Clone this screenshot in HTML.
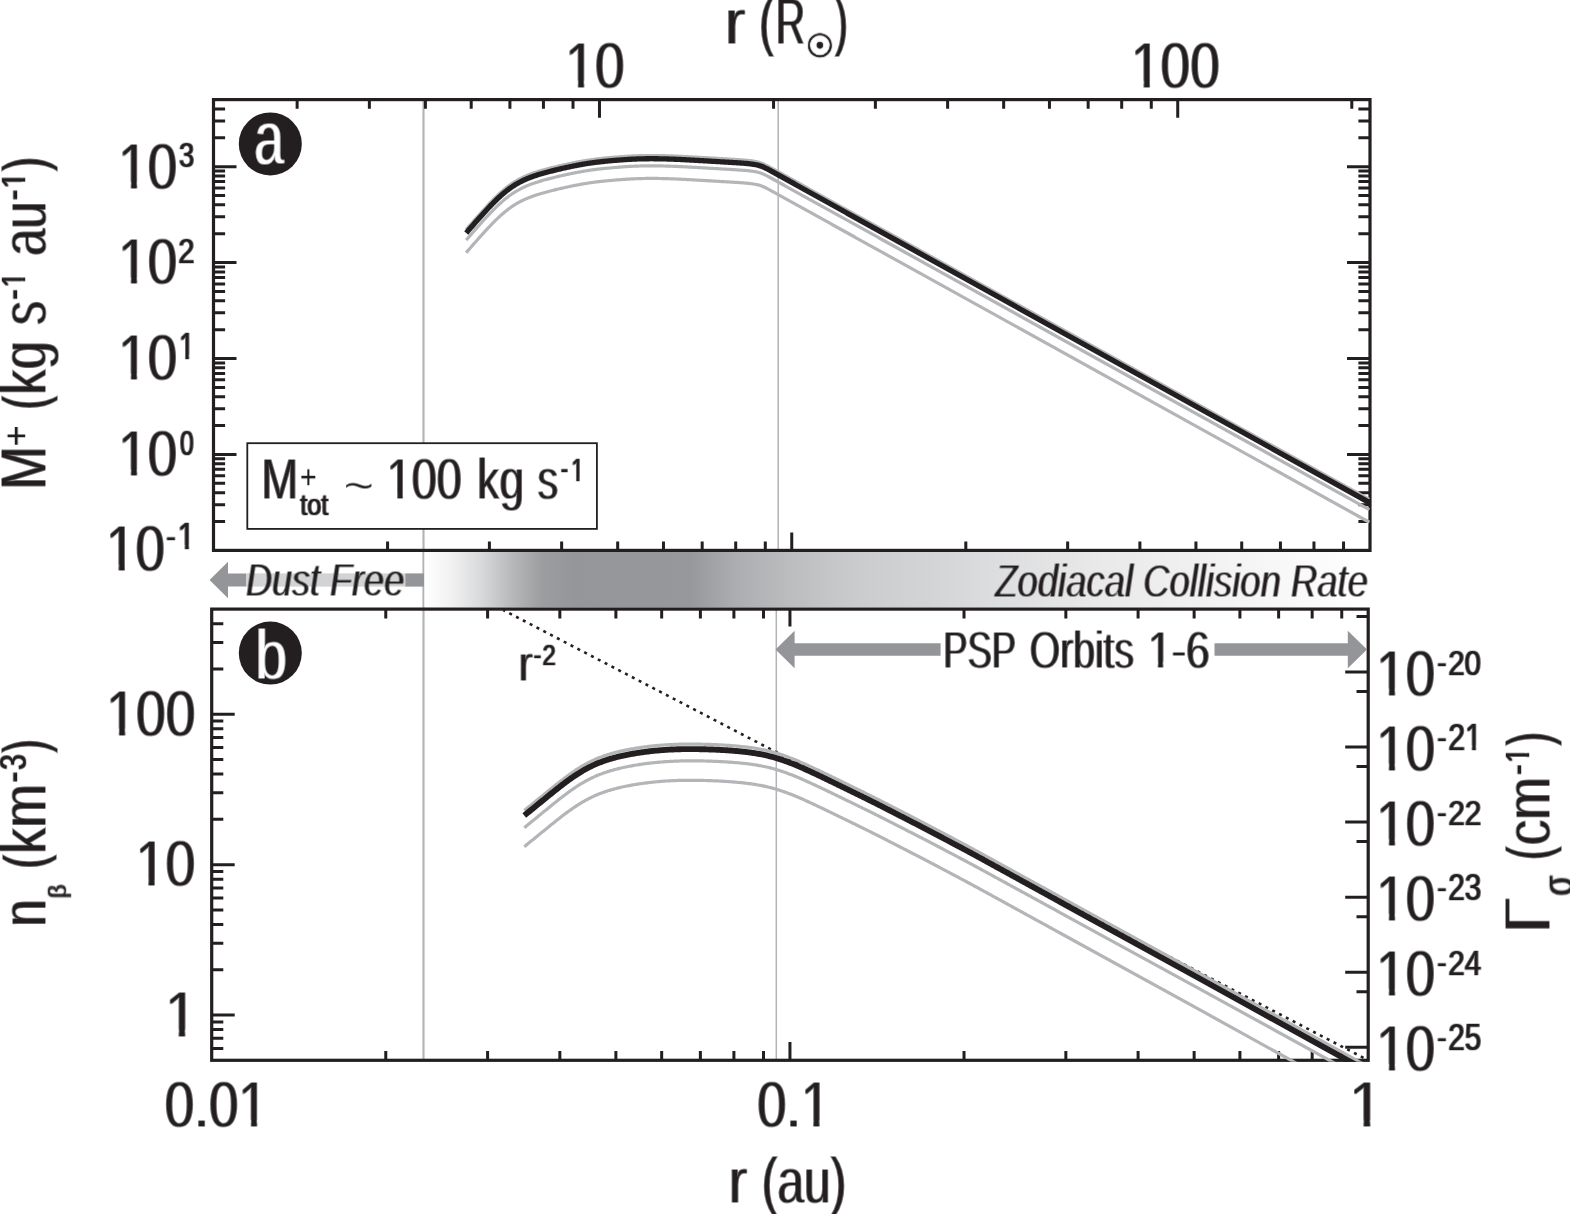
<!DOCTYPE html>
<html lang="en"><head><meta charset="utf-8"><title>Figure</title>
<style>html,body{margin:0;padding:0;background:#fff}svg{display:block}</style></head>
<body>
<svg width="1570" height="1214" viewBox="0 0 1570 1214" font-family='"Liberation Sans", sans-serif' fill="#231f20">
<defs><linearGradient id="zg" x1="0" x2="1" y1="0" y2="0">
<stop offset="0.0000" stop-color="#ffffff"/>
<stop offset="0.0275" stop-color="#f2f2f3"/>
<stop offset="0.0603" stop-color="#d8d9da"/>
<stop offset="0.0930" stop-color="#b6b8ba"/>
<stop offset="0.1247" stop-color="#9b9d9f"/>
<stop offset="0.1596" stop-color="#949699"/>
<stop offset="0.2812" stop-color="#96989b"/>
<stop offset="0.3288" stop-color="#abadb0"/>
<stop offset="0.3869" stop-color="#bcbdbf"/>
<stop offset="0.4292" stop-color="#c5c6c8"/>
<stop offset="0.4609" stop-color="#cbccce"/>
<stop offset="0.5349" stop-color="#d3d4d6"/>
<stop offset="0.6089" stop-color="#dddedf"/>
<stop offset="0.7146" stop-color="#e9e9ea"/>
<stop offset="0.8732" stop-color="#f5f5f6"/>
<stop offset="1.0000" stop-color="#ffffff"/>
</linearGradient>
</defs>
<rect width="1570" height="1214" fill="#fff"/>
<path d="M423.5 99.6V1060.3" stroke="#b1b3b6" stroke-width="2.1" fill="none"/>
<path d="M778.2 99.6V550.4M776.3 609.1V1060.3" stroke="#b1b3b6" stroke-width="1.5" fill="none"/>
<rect x="424.5" y="552.0" width="945.5" height="55.50000000000002" fill="url(#zg)"/>
<path d="M213.5 521.52h11.6M1370 521.52h-11.6M213.5 504.63h11.6M1370 504.63h-11.6M213.5 492.64h11.6M1370 492.64h-11.6M213.5 483.34h11.6M1370 483.34h-11.6M213.5 475.75h11.6M1370 475.75h-11.6M213.5 469.32h11.6M1370 469.32h-11.6M213.5 463.76h11.6M1370 463.76h-11.6M213.5 458.85h11.6M1370 458.85h-11.6M213.5 454.46h23M1370 454.46h-23M213.5 425.58h11.6M1370 425.58h-11.6M213.5 408.69h11.6M1370 408.69h-11.6M213.5 396.7h11.6M1370 396.7h-11.6M213.5 387.41h11.6M1370 387.41h-11.6M213.5 379.81h11.6M1370 379.81h-11.6M213.5 373.39h11.6M1370 373.39h-11.6M213.5 367.83h11.6M1370 367.83h-11.6M213.5 362.92h11.6M1370 362.92h-11.6M213.5 358.53h23M1370 358.53h-23M213.5 329.65h11.6M1370 329.65h-11.6M213.5 312.76h11.6M1370 312.76h-11.6M213.5 300.77h11.6M1370 300.77h-11.6M213.5 291.47h11.6M1370 291.47h-11.6M213.5 283.88h11.6M1370 283.88h-11.6M213.5 277.45h11.6M1370 277.45h-11.6M213.5 271.89h11.6M1370 271.89h-11.6M213.5 266.98h11.6M1370 266.98h-11.6M213.5 262.59h23M1370 262.59h-23M213.5 233.71h11.6M1370 233.71h-11.6M213.5 216.82h11.6M1370 216.82h-11.6M213.5 204.83h11.6M1370 204.83h-11.6M213.5 195.54h11.6M1370 195.54h-11.6M213.5 187.94h11.6M1370 187.94h-11.6M213.5 181.52h11.6M1370 181.52h-11.6M213.5 175.95h11.6M1370 175.95h-11.6M213.5 171.05h11.6M1370 171.05h-11.6M213.5 166.66h23M1370 166.66h-23M213.5 137.78h11.6M1370 137.78h-11.6M213.5 120.88h11.6M1370 120.88h-11.6M213.5 108.9h11.6M1370 108.9h-11.6M387.57 550.4v-9M489.4 550.4v-9M561.64 550.4v-9M617.68 550.4v-9M663.47 550.4v-9M702.18 550.4v-9M735.71 550.4v-9M765.29 550.4v-9M791.75 550.4v-18M965.82 550.4v-9M1067.65 550.4v-9M1139.89 550.4v-9M1195.93 550.4v-9M1241.72 550.4v-9M1280.43 550.4v-9M1313.96 550.4v-9M1343.54 550.4v-9M297.13 99.6v9.1M369.37 99.6v9.1M425.41 99.6v9.1M471.2 99.6v9.1M509.91 99.6v9.1M543.44 99.6v9.1M573.02 99.6v9.1M599.48 99.6v18.2M773.55 99.6v9.1M875.38 99.6v9.1M947.62 99.6v9.1M1003.66 99.6v9.1M1049.45 99.6v9.1M1088.16 99.6v9.1M1121.69 99.6v9.1M1151.27 99.6v9.1M1177.73 99.6v18.2M1351.8 99.6v9.1M211.7 1048.39h11.6M211.7 1038.32h11.6M211.7 1029.6h11.6M211.7 1021.91h11.6M211.7 1015.03h23M211.7 969.75h11.6M211.7 943.27h11.6M211.7 924.48h11.6M211.7 909.9h11.6M211.7 897.99h11.6M211.7 887.92h11.6M211.7 879.2h11.6M211.7 871.51h11.6M211.7 864.63h23M211.7 819.35h11.6M211.7 792.87h11.6M211.7 774.08h11.6M211.7 759.5h11.6M211.7 747.59h11.6M211.7 737.52h11.6M211.7 728.8h11.6M211.7 721.11h11.6M211.7 714.23h23M211.7 668.95h11.6M211.7 642.47h11.6M211.7 623.68h11.6M385.77 1060.3v-9.2M385.77 609.1v9.3M487.6 1060.3v-9.2M487.6 609.1v9.3M559.84 1060.3v-9.2M559.84 609.1v9.3M615.88 1060.3v-9.2M615.88 609.1v9.3M661.67 1060.3v-9.2M661.67 609.1v9.3M700.38 1060.3v-9.2M700.38 609.1v9.3M733.91 1060.3v-9.2M733.91 609.1v9.3M763.49 1060.3v-9.2M763.49 609.1v9.3M789.95 1060.3v-18.3M789.95 609.1v17.5M964.02 1060.3v-9.2M964.02 609.1v9.3M1065.85 1060.3v-9.2M1065.85 609.1v9.3M1138.09 1060.3v-9.2M1138.09 609.1v9.3M1194.13 1060.3v-9.2M1194.13 609.1v9.3M1239.92 1060.3v-9.2M1239.92 609.1v9.3M1278.63 1060.3v-9.2M1278.63 609.1v9.3M1312.16 1060.3v-9.2M1312.16 609.1v9.3M1341.74 1060.3v-9.2M1341.74 609.1v9.3M1368.2 672h-23M1368.2 616.45h-11.7M1368.2 747.05h-23M1368.2 691.5h-11.7M1368.2 822.1h-23M1368.2 766.55h-11.7M1368.2 897.15h-23M1368.2 841.6h-11.7M1368.2 972.2h-23M1368.2 916.65h-11.7M1368.2 1047.25h-23M1368.2 991.7h-11.7" stroke="#231f20" stroke-width="3.0" fill="none"/>
<g stroke="#231f20" stroke-width="3.2" fill="none">
<rect x="213.5" y="99.6" width="1156.5" height="450.8"/>
<rect x="211.7" y="609.1" width="1156.5" height="451.2"/>
</g>
<path d="M503.35 610.1L1368.28 1060.3" stroke="#231f20" stroke-width="2.6" stroke-dasharray="3 4.68" stroke-dashoffset="1" fill="none"/>
<clipPath id="ct"><rect x="213.5" y="99.6" width="1156.5" height="450.79999999999995"/></clipPath>
<g fill="none" clip-path="url(#ct)">
<path d="M466 229.82L466.91 228.76L467.81 227.7L468.72 226.65L469.62 225.6L470.53 224.55L471.43 223.51L472.34 222.47L473.25 221.43L474.15 220.39L475.06 219.36L475.96 218.33L476.87 217.3L477.77 216.28L478.68 215.26L479.58 214.24L480.49 213.23L481.4 212.22L482.3 211.22L483.21 210.21L484.11 209.22L485.02 208.23L485.92 207.24L486.83 206.27L487.74 205.3L488.64 204.34L489.55 203.38L490.45 202.43L491.36 201.49L492.26 200.56L493.17 199.64L494.07 198.72L494.98 197.82L495.89 196.93L496.79 196.06L497.7 195.2L498.6 194.35L499.51 193.51L500.41 192.69L501.32 191.88L502.23 191.08L503.13 190.3L504.04 189.53L504.94 188.78L505.85 188.05L506.75 187.33L507.66 186.63L508.56 185.95L509.47 185.28L510.38 184.63L511.28 184L512.19 183.38L513.09 182.78L514 182.2L514.9 181.63L515.81 181.08L516.72 180.54L517.62 180.02L518.53 179.51L519.43 179.03L520.34 178.55L521.24 178.09L522.15 177.64L523.06 177.21L523.96 176.78L524.87 176.37L525.77 175.97L526.68 175.58L527.58 175.21L528.49 174.84L529.39 174.49L530.3 174.15L531.21 173.81L532.11 173.48L533.02 173.15L533.92 172.84L534.83 172.53L535.73 172.23L536.64 171.94L537.55 171.65L538.45 171.37L539.36 171.09L540.26 170.82L541.17 170.56L542.07 170.29L542.98 170.03L543.88 169.78L544.79 169.53L545.7 169.28L546.6 169.04L547.51 168.8L548.41 168.56L549.32 168.32L550.22 168.09L551.13 167.86L552.04 167.63L552.94 167.41L553.85 167.18L554.75 166.96L555.66 166.74L556.56 166.52L557.47 166.31L558.37 166.09L559.28 165.88L560.19 165.67L561.09 165.46L562 165.25L562.9 165.05L563.81 164.84L564.71 164.64L565.62 164.44L566.53 164.24L567.43 164.04L568.34 163.84L569.24 163.65L570.15 163.46L571.05 163.27L571.96 163.08L572.87 162.89L573.77 162.71L574.68 162.53L575.58 162.35L576.49 162.17L577.39 162L578.3 161.83L579.2 161.66L580.11 161.5L581.02 161.33L581.92 161.17L582.83 161.02L583.73 160.86L584.64 160.71L585.54 160.56L586.45 160.42L587.36 160.27L588.26 160.14L589.17 160L590.07 159.87L590.98 159.74L591.88 159.61L592.79 159.49L593.69 159.37L594.6 159.25L595.51 159.13L596.41 159.02L597.32 158.91L598.22 158.8L599.13 158.7L600.03 158.6L600.94 158.5L601.85 158.4L602.75 158.3L603.66 158.21L604.56 158.12L605.47 158.02L606.37 157.93L607.28 157.85L608.18 157.76L609.09 157.68L610 157.59L610.9 157.51L611.81 157.43L612.71 157.35L613.62 157.27L614.52 157.2L615.43 157.12L616.34 157.05L617.24 156.98L618.15 156.9L619.05 156.83L619.96 156.76L620.86 156.7L621.77 156.63L622.68 156.57L623.58 156.5L624.49 156.44L625.39 156.38L626.3 156.32L627.2 156.27L628.11 156.21L629.01 156.16L629.92 156.11L630.83 156.06L631.73 156.01L632.64 155.97L633.54 155.93L634.45 155.88L635.35 155.85L636.26 155.81L637.17 155.77L638.07 155.74L638.98 155.71L639.88 155.68L640.79 155.66L641.69 155.64L642.6 155.61L643.5 155.6L644.41 155.58L645.32 155.56L646.22 155.55L647.13 155.54L648.03 155.53L648.94 155.53L649.84 155.52L650.75 155.52L651.66 155.52L652.56 155.52L653.47 155.53L654.37 155.53L655.28 155.54L656.18 155.55L657.09 155.56L657.99 155.57L658.9 155.59L659.81 155.6L660.71 155.62L661.62 155.64L662.52 155.66L663.43 155.68L664.33 155.7L665.24 155.73L666.15 155.75L667.05 155.78L667.96 155.81L668.86 155.84L669.77 155.87L670.67 155.9L671.58 155.93L672.49 155.97L673.39 156L674.3 156.04L675.2 156.07L676.11 156.11L677.01 156.15L677.92 156.19L678.82 156.23L679.73 156.27L680.64 156.31L681.54 156.36L682.45 156.4L683.35 156.45L684.26 156.49L685.16 156.54L686.07 156.58L686.98 156.63L687.88 156.68L688.79 156.73L689.69 156.78L690.6 156.83L691.5 156.88L692.41 156.93L693.31 156.98L694.22 157.03L695.13 157.08L696.03 157.13L696.94 157.18L697.84 157.24L698.75 157.29L699.65 157.34L700.56 157.4L701.47 157.45L702.37 157.5L703.28 157.56L704.18 157.61L705.09 157.66L705.99 157.72L706.9 157.77L707.81 157.82L708.71 157.88L709.62 157.93L710.52 157.99L711.43 158.04L712.33 158.09L713.24 158.15L714.14 158.2L715.05 158.25L715.96 158.31L716.86 158.36L717.77 158.42L718.67 158.47L719.58 158.52L720.48 158.58L721.39 158.63L722.3 158.68L723.2 158.74L724.11 158.79L725.01 158.85L725.92 158.9L726.82 158.96L727.73 159.01L728.63 159.06L729.54 159.12L730.45 159.17L731.35 159.23L732.26 159.28L733.16 159.34L734.07 159.39L734.97 159.45L735.88 159.5L736.79 159.56L737.69 159.62L738.6 159.68L739.5 159.74L740.41 159.8L741.31 159.87L742.22 159.93L743.12 160L744.03 160.08L744.94 160.15L745.84 160.23L746.75 160.31L747.65 160.4L748.56 160.5L749.46 160.6L750.37 160.7L751.28 160.82L752.18 160.94L753.09 161.07L753.99 161.22L754.9 161.38L755.8 161.55L756.71 161.74L757.62 161.95L758.52 162.17L759.43 162.43L760.33 162.71L761.24 163.03L762.14 163.38L763.05 163.76L763.95 164.17L764.86 164.61L765.77 165.07L766.67 165.53L767.58 166L768.48 166.48L769.39 166.96L770.29 167.45L771.2 167.95L772.11 168.45L773.01 168.95L773.92 169.45L774.82 169.95L775.73 170.46L776.63 170.96L777.54 171.46L778.44 171.96L779.35 172.46L780.26 172.97L781.16 173.47L782.07 173.97L782.97 174.47L783.88 174.97L784.78 175.48L785.69 175.98L786.6 176.48L787.5 176.98L788.41 177.48L789.31 177.98L790.22 178.49L791.12 178.99L792.03 179.49L792.93 179.99L793.84 180.49L794.75 181L795.65 181.5L796.56 182L797.46 182.5L798.37 183L799.27 183.51L800.18 184.01L801.09 184.51L801.99 185.01L802.9 185.51L803.8 186.02L804.71 186.52L805.61 187.02L806.52 187.52L807.43 188.02L808.33 188.53L809.24 189.03L810.14 189.53L811.05 190.03L811.95 190.53L812.86 191.03L813.76 191.54L814.67 192.04L815.58 192.54L816.48 193.04L817.39 193.54L818.29 194.05L819.2 194.55L820.1 195.05L821.01 195.55L821.92 196.05L822.82 196.56L823.73 197.06L824.63 197.56L825.54 198.06L826.44 198.56L827.35 199.07L828.25 199.57L829.16 200.07L830.07 200.57L830.97 201.07L831.88 201.58L832.78 202.08L833.69 202.58L834.59 203.08L835.5 203.58L836.41 204.08L837.31 204.59L838.22 205.09L839.12 205.59L840.03 206.09L840.93 206.59L841.84 207.1L842.74 207.6L843.65 208.1L844.56 208.6L845.46 209.1L846.37 209.61L847.27 210.11L848.18 210.61L849.08 211.11L849.99 211.61L850.9 212.12L851.8 212.62L852.71 213.12L853.61 213.62L854.52 214.12L855.42 214.63L856.33 215.13L857.24 215.63L858.14 216.13L859.05 216.63L859.95 217.13L860.86 217.64L861.76 218.14L862.67 218.64L863.57 219.14L864.48 219.64L865.39 220.15L866.29 220.65L867.2 221.15L868.1 221.65L869.01 222.15L869.91 222.66L870.82 223.16L871.73 223.66L872.63 224.16L873.54 224.66L874.44 225.17L875.35 225.67L876.25 226.17L877.16 226.67L878.06 227.17L878.97 227.68L879.88 228.18L880.78 228.68L881.69 229.18L882.59 229.68L883.5 230.19L884.4 230.69L885.31 231.19L886.22 231.69L887.12 232.19L888.03 232.69L888.93 233.2L889.84 233.7L890.74 234.2L891.65 234.7L892.55 235.2L893.46 235.71L894.37 236.21L895.27 236.71L896.18 237.21L897.08 237.71L897.99 238.22L898.89 238.72L899.8 239.22L1369.2 499.37" stroke="#b3b5b8" stroke-width="3.2"/>
<path d="M466.2 240.12L467.11 239.06L468.01 238L468.92 236.95L469.82 235.9L470.73 234.85L471.63 233.81L472.54 232.77L473.45 231.73L474.35 230.69L475.26 229.66L476.16 228.63L477.07 227.6L477.97 226.58L478.88 225.56L479.78 224.54L480.69 223.53L481.6 222.52L482.5 221.52L483.41 220.51L484.31 219.52L485.22 218.53L486.12 217.54L487.03 216.57L487.94 215.6L488.84 214.64L489.75 213.68L490.65 212.73L491.56 211.79L492.46 210.86L493.37 209.94L494.27 209.02L495.18 208.12L496.09 207.23L496.99 206.36L497.9 205.5L498.8 204.65L499.71 203.81L500.61 202.99L501.52 202.18L502.43 201.38L503.33 200.6L504.24 199.83L505.14 199.08L506.05 198.35L506.95 197.63L507.86 196.93L508.76 196.25L509.67 195.58L510.58 194.93L511.48 194.3L512.39 193.68L513.29 193.08L514.2 192.5L515.1 191.93L516.01 191.38L516.92 190.84L517.82 190.32L518.73 189.81L519.63 189.33L520.54 188.85L521.44 188.39L522.35 187.94L523.26 187.51L524.16 187.08L525.07 186.67L525.97 186.27L526.88 185.88L527.78 185.51L528.69 185.14L529.59 184.79L530.5 184.45L531.41 184.11L532.31 183.78L533.22 183.45L534.12 183.14L535.03 182.83L535.93 182.53L536.84 182.24L537.75 181.95L538.65 181.67L539.56 181.39L540.46 181.12L541.37 180.86L542.27 180.59L543.18 180.33L544.08 180.08L544.99 179.83L545.9 179.58L546.8 179.34L547.71 179.1L548.61 178.86L549.52 178.62L550.42 178.39L551.33 178.16L552.24 177.93L553.14 177.71L554.05 177.48L554.95 177.26L555.86 177.04L556.76 176.82L557.67 176.61L558.57 176.39L559.48 176.18L560.39 175.97L561.29 175.76L562.2 175.55L563.1 175.35L564.01 175.14L564.91 174.94L565.82 174.74L566.73 174.54L567.63 174.34L568.54 174.14L569.44 173.95L570.35 173.76L571.25 173.57L572.16 173.38L573.07 173.19L573.97 173.01L574.88 172.83L575.78 172.65L576.69 172.47L577.59 172.3L578.5 172.13L579.4 171.96L580.31 171.8L581.22 171.63L582.12 171.47L583.03 171.32L583.93 171.16L584.84 171.01L585.74 170.86L586.65 170.72L587.56 170.57L588.46 170.44L589.37 170.3L590.27 170.17L591.18 170.04L592.08 169.91L592.99 169.79L593.89 169.67L594.8 169.55L595.71 169.43L596.61 169.32L597.52 169.21L598.42 169.1L599.33 169L600.23 168.9L601.14 168.8L602.05 168.7L602.95 168.6L603.86 168.51L604.76 168.42L605.67 168.32L606.57 168.23L607.48 168.15L608.38 168.06L609.29 167.98L610.2 167.89L611.1 167.81L612.01 167.73L612.91 167.65L613.82 167.57L614.72 167.5L615.63 167.42L616.54 167.35L617.44 167.28L618.35 167.2L619.25 167.13L620.16 167.06L621.06 167L621.97 166.93L622.88 166.87L623.78 166.8L624.69 166.74L625.59 166.68L626.5 166.62L627.4 166.57L628.31 166.51L629.21 166.46L630.12 166.41L631.03 166.36L631.93 166.31L632.84 166.27L633.74 166.23L634.65 166.18L635.55 166.15L636.46 166.11L637.37 166.07L638.27 166.04L639.18 166.01L640.08 165.98L640.99 165.96L641.89 165.94L642.8 165.91L643.7 165.9L644.61 165.88L645.52 165.86L646.42 165.85L647.33 165.84L648.23 165.83L649.14 165.83L650.04 165.82L650.95 165.82L651.86 165.82L652.76 165.82L653.67 165.83L654.57 165.83L655.48 165.84L656.38 165.85L657.29 165.86L658.19 165.87L659.1 165.89L660.01 165.9L660.91 165.92L661.82 165.94L662.72 165.96L663.63 165.98L664.53 166L665.44 166.03L666.35 166.05L667.25 166.08L668.16 166.11L669.06 166.14L669.97 166.17L670.87 166.2L671.78 166.23L672.69 166.27L673.59 166.3L674.5 166.34L675.4 166.37L676.31 166.41L677.21 166.45L678.12 166.49L679.02 166.53L679.93 166.57L680.84 166.61L681.74 166.66L682.65 166.7L683.55 166.75L684.46 166.79L685.36 166.84L686.27 166.88L687.18 166.93L688.08 166.98L688.99 167.03L689.89 167.08L690.8 167.13L691.7 167.18L692.61 167.23L693.51 167.28L694.42 167.33L695.33 167.38L696.23 167.43L697.14 167.48L698.04 167.54L698.95 167.59L699.85 167.64L700.76 167.7L701.67 167.75L702.57 167.8L703.48 167.86L704.38 167.91L705.29 167.96L706.19 168.02L707.1 168.07L708.01 168.12L708.91 168.18L709.82 168.23L710.72 168.29L711.63 168.34L712.53 168.39L713.44 168.45L714.34 168.5L715.25 168.55L716.16 168.61L717.06 168.66L717.97 168.72L718.87 168.77L719.78 168.82L720.68 168.88L721.59 168.93L722.5 168.98L723.4 169.04L724.31 169.09L725.21 169.15L726.12 169.2L727.02 169.26L727.93 169.31L728.83 169.36L729.74 169.42L730.65 169.47L731.55 169.53L732.46 169.58L733.36 169.64L734.27 169.69L735.17 169.75L736.08 169.8L736.99 169.86L737.89 169.92L738.8 169.98L739.7 170.04L740.61 170.1L741.51 170.17L742.42 170.23L743.32 170.3L744.23 170.38L745.14 170.45L746.04 170.53L746.95 170.61L747.85 170.7L748.76 170.8L749.66 170.9L750.57 171L751.48 171.12L752.38 171.24L753.29 171.37L754.19 171.52L755.1 171.68L756 171.85L756.91 172.04L757.82 172.25L758.72 172.47L759.63 172.73L760.53 173.01L761.44 173.33L762.34 173.68L763.25 174.06L764.15 174.47L765.06 174.91L765.97 175.37L766.87 175.83L767.78 176.3L768.68 176.78L769.59 177.26L770.49 177.75L771.4 178.25L772.31 178.75L773.21 179.25L774.12 179.75L775.02 180.25L775.93 180.76L776.83 181.26L777.74 181.76L778.64 182.26L779.55 182.76L780.46 183.27L781.36 183.77L782.27 184.27L783.17 184.77L784.08 185.27L784.98 185.78L785.89 186.28L786.8 186.78L787.7 187.28L788.61 187.78L789.51 188.28L790.42 188.79L791.32 189.29L792.23 189.79L793.13 190.29L794.04 190.79L794.95 191.3L795.85 191.8L796.76 192.3L797.66 192.8L798.57 193.3L799.47 193.81L800.38 194.31L801.29 194.81L802.19 195.31L803.1 195.81L804 196.32L804.91 196.82L805.81 197.32L806.72 197.82L807.63 198.32L808.53 198.83L809.44 199.33L810.34 199.83L811.25 200.33L812.15 200.83L813.06 201.33L813.96 201.84L814.87 202.34L815.78 202.84L816.68 203.34L817.59 203.84L818.49 204.35L819.4 204.85L820.3 205.35L821.21 205.85L822.12 206.35L823.02 206.86L823.93 207.36L824.83 207.86L825.74 208.36L826.64 208.86L827.55 209.37L828.45 209.87L829.36 210.37L830.27 210.87L831.17 211.37L832.08 211.88L832.98 212.38L833.89 212.88L834.79 213.38L835.7 213.88L836.61 214.38L837.51 214.89L838.42 215.39L839.32 215.89L840.23 216.39L841.13 216.89L842.04 217.4L842.94 217.9L843.85 218.4L844.76 218.9L845.66 219.4L846.57 219.91L847.47 220.41L848.38 220.91L849.28 221.41L850.19 221.91L851.1 222.42L852 222.92L852.91 223.42L853.81 223.92L854.72 224.42L855.62 224.93L856.53 225.43L857.44 225.93L858.34 226.43L859.25 226.93L860.15 227.43L861.06 227.94L861.96 228.44L862.87 228.94L863.77 229.44L864.68 229.94L865.59 230.45L866.49 230.95L867.4 231.45L868.3 231.95L869.21 232.45L870.11 232.96L871.02 233.46L871.93 233.96L872.83 234.46L873.74 234.96L874.64 235.47L875.55 235.97L876.45 236.47L877.36 236.97L878.26 237.47L879.17 237.98L880.08 238.48L880.98 238.98L881.89 239.48L882.79 239.98L883.7 240.49L884.6 240.99L885.51 241.49L886.42 241.99L887.32 242.49L888.23 242.99L889.13 243.5L890.04 244L890.94 244.5L891.85 245L892.75 245.5L893.66 246.01L894.57 246.51L895.47 247.01L896.38 247.51L897.28 248.01L898.19 248.52L899.09 249.02L900 249.52L1369.4 509.67" stroke="#b3b5b8" stroke-width="3.2"/>
<path d="M466.2 252.72L467.11 251.66L468.01 250.6L468.92 249.55L469.82 248.5L470.73 247.45L471.63 246.41L472.54 245.37L473.45 244.33L474.35 243.29L475.26 242.26L476.16 241.23L477.07 240.2L477.97 239.18L478.88 238.16L479.78 237.14L480.69 236.13L481.6 235.12L482.5 234.12L483.41 233.11L484.31 232.12L485.22 231.13L486.12 230.14L487.03 229.17L487.94 228.2L488.84 227.24L489.75 226.28L490.65 225.33L491.56 224.39L492.46 223.46L493.37 222.54L494.27 221.62L495.18 220.72L496.09 219.83L496.99 218.96L497.9 218.1L498.8 217.25L499.71 216.41L500.61 215.59L501.52 214.78L502.43 213.98L503.33 213.2L504.24 212.43L505.14 211.68L506.05 210.95L506.95 210.23L507.86 209.53L508.76 208.85L509.67 208.18L510.58 207.53L511.48 206.9L512.39 206.28L513.29 205.68L514.2 205.1L515.1 204.53L516.01 203.98L516.92 203.44L517.82 202.92L518.73 202.41L519.63 201.93L520.54 201.45L521.44 200.99L522.35 200.54L523.26 200.11L524.16 199.68L525.07 199.27L525.97 198.87L526.88 198.48L527.78 198.11L528.69 197.74L529.59 197.39L530.5 197.05L531.41 196.71L532.31 196.38L533.22 196.05L534.12 195.74L535.03 195.43L535.93 195.13L536.84 194.84L537.75 194.55L538.65 194.27L539.56 193.99L540.46 193.72L541.37 193.46L542.27 193.19L543.18 192.93L544.08 192.68L544.99 192.43L545.9 192.18L546.8 191.94L547.71 191.7L548.61 191.46L549.52 191.22L550.42 190.99L551.33 190.76L552.24 190.53L553.14 190.31L554.05 190.08L554.95 189.86L555.86 189.64L556.76 189.42L557.67 189.21L558.57 188.99L559.48 188.78L560.39 188.57L561.29 188.36L562.2 188.15L563.1 187.95L564.01 187.74L564.91 187.54L565.82 187.34L566.73 187.14L567.63 186.94L568.54 186.74L569.44 186.55L570.35 186.36L571.25 186.17L572.16 185.98L573.07 185.79L573.97 185.61L574.88 185.43L575.78 185.25L576.69 185.07L577.59 184.9L578.5 184.73L579.4 184.56L580.31 184.4L581.22 184.23L582.12 184.07L583.03 183.92L583.93 183.76L584.84 183.61L585.74 183.46L586.65 183.32L587.56 183.17L588.46 183.04L589.37 182.9L590.27 182.77L591.18 182.64L592.08 182.51L592.99 182.39L593.89 182.27L594.8 182.15L595.71 182.03L596.61 181.92L597.52 181.81L598.42 181.7L599.33 181.6L600.23 181.5L601.14 181.4L602.05 181.3L602.95 181.2L603.86 181.11L604.76 181.02L605.67 180.92L606.57 180.83L607.48 180.75L608.38 180.66L609.29 180.58L610.2 180.49L611.1 180.41L612.01 180.33L612.91 180.25L613.82 180.17L614.72 180.1L615.63 180.02L616.54 179.95L617.44 179.88L618.35 179.8L619.25 179.73L620.16 179.66L621.06 179.6L621.97 179.53L622.88 179.47L623.78 179.4L624.69 179.34L625.59 179.28L626.5 179.22L627.4 179.17L628.31 179.11L629.21 179.06L630.12 179.01L631.03 178.96L631.93 178.91L632.84 178.87L633.74 178.83L634.65 178.78L635.55 178.75L636.46 178.71L637.37 178.67L638.27 178.64L639.18 178.61L640.08 178.58L640.99 178.56L641.89 178.54L642.8 178.51L643.7 178.5L644.61 178.48L645.52 178.46L646.42 178.45L647.33 178.44L648.23 178.43L649.14 178.43L650.04 178.42L650.95 178.42L651.86 178.42L652.76 178.42L653.67 178.43L654.57 178.43L655.48 178.44L656.38 178.45L657.29 178.46L658.19 178.47L659.1 178.49L660.01 178.5L660.91 178.52L661.82 178.54L662.72 178.56L663.63 178.58L664.53 178.6L665.44 178.63L666.35 178.65L667.25 178.68L668.16 178.71L669.06 178.74L669.97 178.77L670.87 178.8L671.78 178.83L672.69 178.87L673.59 178.9L674.5 178.94L675.4 178.97L676.31 179.01L677.21 179.05L678.12 179.09L679.02 179.13L679.93 179.17L680.84 179.21L681.74 179.26L682.65 179.3L683.55 179.35L684.46 179.39L685.36 179.44L686.27 179.48L687.18 179.53L688.08 179.58L688.99 179.63L689.89 179.68L690.8 179.73L691.7 179.78L692.61 179.83L693.51 179.88L694.42 179.93L695.33 179.98L696.23 180.03L697.14 180.08L698.04 180.14L698.95 180.19L699.85 180.24L700.76 180.3L701.67 180.35L702.57 180.4L703.48 180.46L704.38 180.51L705.29 180.56L706.19 180.62L707.1 180.67L708.01 180.72L708.91 180.78L709.82 180.83L710.72 180.89L711.63 180.94L712.53 180.99L713.44 181.05L714.34 181.1L715.25 181.15L716.16 181.21L717.06 181.26L717.97 181.32L718.87 181.37L719.78 181.42L720.68 181.48L721.59 181.53L722.5 181.58L723.4 181.64L724.31 181.69L725.21 181.75L726.12 181.8L727.02 181.86L727.93 181.91L728.83 181.96L729.74 182.02L730.65 182.07L731.55 182.13L732.46 182.18L733.36 182.24L734.27 182.29L735.17 182.35L736.08 182.4L736.99 182.46L737.89 182.52L738.8 182.58L739.7 182.64L740.61 182.7L741.51 182.77L742.42 182.83L743.32 182.9L744.23 182.98L745.14 183.05L746.04 183.13L746.95 183.21L747.85 183.3L748.76 183.4L749.66 183.5L750.57 183.6L751.48 183.72L752.38 183.84L753.29 183.97L754.19 184.12L755.1 184.28L756 184.45L756.91 184.64L757.82 184.85L758.72 185.07L759.63 185.33L760.53 185.61L761.44 185.93L762.34 186.28L763.25 186.66L764.15 187.07L765.06 187.51L765.97 187.97L766.87 188.43L767.78 188.9L768.68 189.38L769.59 189.86L770.49 190.35L771.4 190.85L772.31 191.35L773.21 191.85L774.12 192.35L775.02 192.85L775.93 193.36L776.83 193.86L777.74 194.36L778.64 194.86L779.55 195.36L780.46 195.87L781.36 196.37L782.27 196.87L783.17 197.37L784.08 197.87L784.98 198.38L785.89 198.88L786.8 199.38L787.7 199.88L788.61 200.38L789.51 200.88L790.42 201.39L791.32 201.89L792.23 202.39L793.13 202.89L794.04 203.39L794.95 203.9L795.85 204.4L796.76 204.9L797.66 205.4L798.57 205.9L799.47 206.41L800.38 206.91L801.29 207.41L802.19 207.91L803.1 208.41L804 208.92L804.91 209.42L805.81 209.92L806.72 210.42L807.63 210.92L808.53 211.43L809.44 211.93L810.34 212.43L811.25 212.93L812.15 213.43L813.06 213.93L813.96 214.44L814.87 214.94L815.78 215.44L816.68 215.94L817.59 216.44L818.49 216.95L819.4 217.45L820.3 217.95L821.21 218.45L822.12 218.95L823.02 219.46L823.93 219.96L824.83 220.46L825.74 220.96L826.64 221.46L827.55 221.97L828.45 222.47L829.36 222.97L830.27 223.47L831.17 223.97L832.08 224.48L832.98 224.98L833.89 225.48L834.79 225.98L835.7 226.48L836.61 226.98L837.51 227.49L838.42 227.99L839.32 228.49L840.23 228.99L841.13 229.49L842.04 230L842.94 230.5L843.85 231L844.76 231.5L845.66 232L846.57 232.51L847.47 233.01L848.38 233.51L849.28 234.01L850.19 234.51L851.1 235.02L852 235.52L852.91 236.02L853.81 236.52L854.72 237.02L855.62 237.53L856.53 238.03L857.44 238.53L858.34 239.03L859.25 239.53L860.15 240.03L861.06 240.54L861.96 241.04L862.87 241.54L863.77 242.04L864.68 242.54L865.59 243.05L866.49 243.55L867.4 244.05L868.3 244.55L869.21 245.05L870.11 245.56L871.02 246.06L871.93 246.56L872.83 247.06L873.74 247.56L874.64 248.07L875.55 248.57L876.45 249.07L877.36 249.57L878.26 250.07L879.17 250.58L880.08 251.08L880.98 251.58L881.89 252.08L882.79 252.58L883.7 253.09L884.6 253.59L885.51 254.09L886.42 254.59L887.32 255.09L888.23 255.59L889.13 256.1L890.04 256.6L890.94 257.1L891.85 257.6L892.75 258.1L893.66 258.61L894.57 259.11L895.47 259.61L896.38 260.11L897.28 260.61L898.19 261.12L899.09 261.62L900 262.12L1369.4 522.27" stroke="#b3b5b8" stroke-width="3.2"/>
<path d="M466.2 233.02L467.11 231.96L468.01 230.9L468.92 229.85L469.82 228.8L470.73 227.75L471.63 226.71L472.54 225.67L473.45 224.63L474.35 223.59L475.26 222.56L476.16 221.53L477.07 220.5L477.97 219.48L478.88 218.46L479.78 217.44L480.69 216.43L481.6 215.42L482.5 214.42L483.41 213.41L484.31 212.42L485.22 211.43L486.12 210.44L487.03 209.47L487.94 208.5L488.84 207.54L489.75 206.58L490.65 205.63L491.56 204.69L492.46 203.76L493.37 202.84L494.27 201.92L495.18 201.02L496.09 200.13L496.99 199.26L497.9 198.4L498.8 197.55L499.71 196.71L500.61 195.89L501.52 195.08L502.43 194.28L503.33 193.5L504.24 192.73L505.14 191.98L506.05 191.25L506.95 190.53L507.86 189.83L508.76 189.15L509.67 188.48L510.58 187.83L511.48 187.2L512.39 186.58L513.29 185.98L514.2 185.4L515.1 184.83L516.01 184.28L516.92 183.74L517.82 183.22L518.73 182.71L519.63 182.23L520.54 181.75L521.44 181.29L522.35 180.84L523.26 180.41L524.16 179.98L525.07 179.57L525.97 179.17L526.88 178.78L527.78 178.41L528.69 178.04L529.59 177.69L530.5 177.35L531.41 177.01L532.31 176.68L533.22 176.35L534.12 176.04L535.03 175.73L535.93 175.43L536.84 175.14L537.75 174.85L538.65 174.57L539.56 174.29L540.46 174.02L541.37 173.76L542.27 173.49L543.18 173.23L544.08 172.98L544.99 172.73L545.9 172.48L546.8 172.24L547.71 172L548.61 171.76L549.52 171.52L550.42 171.29L551.33 171.06L552.24 170.83L553.14 170.61L554.05 170.38L554.95 170.16L555.86 169.94L556.76 169.72L557.67 169.51L558.57 169.29L559.48 169.08L560.39 168.87L561.29 168.66L562.2 168.45L563.1 168.25L564.01 168.04L564.91 167.84L565.82 167.64L566.73 167.44L567.63 167.24L568.54 167.04L569.44 166.85L570.35 166.66L571.25 166.47L572.16 166.28L573.07 166.09L573.97 165.91L574.88 165.73L575.78 165.55L576.69 165.37L577.59 165.2L578.5 165.03L579.4 164.86L580.31 164.7L581.22 164.53L582.12 164.37L583.03 164.22L583.93 164.06L584.84 163.91L585.74 163.76L586.65 163.62L587.56 163.47L588.46 163.34L589.37 163.2L590.27 163.07L591.18 162.94L592.08 162.81L592.99 162.69L593.89 162.57L594.8 162.45L595.71 162.33L596.61 162.22L597.52 162.11L598.42 162L599.33 161.9L600.23 161.8L601.14 161.7L602.05 161.6L602.95 161.5L603.86 161.41L604.76 161.32L605.67 161.22L606.57 161.13L607.48 161.05L608.38 160.96L609.29 160.88L610.2 160.79L611.1 160.71L612.01 160.63L612.91 160.55L613.82 160.47L614.72 160.4L615.63 160.32L616.54 160.25L617.44 160.18L618.35 160.1L619.25 160.03L620.16 159.96L621.06 159.9L621.97 159.83L622.88 159.77L623.78 159.7L624.69 159.64L625.59 159.58L626.5 159.52L627.4 159.47L628.31 159.41L629.21 159.36L630.12 159.31L631.03 159.26L631.93 159.21L632.84 159.17L633.74 159.13L634.65 159.08L635.55 159.05L636.46 159.01L637.37 158.97L638.27 158.94L639.18 158.91L640.08 158.88L640.99 158.86L641.89 158.84L642.8 158.81L643.7 158.8L644.61 158.78L645.52 158.76L646.42 158.75L647.33 158.74L648.23 158.73L649.14 158.73L650.04 158.72L650.95 158.72L651.86 158.72L652.76 158.72L653.67 158.73L654.57 158.73L655.48 158.74L656.38 158.75L657.29 158.76L658.19 158.77L659.1 158.79L660.01 158.8L660.91 158.82L661.82 158.84L662.72 158.86L663.63 158.88L664.53 158.9L665.44 158.93L666.35 158.95L667.25 158.98L668.16 159.01L669.06 159.04L669.97 159.07L670.87 159.1L671.78 159.13L672.69 159.17L673.59 159.2L674.5 159.24L675.4 159.27L676.31 159.31L677.21 159.35L678.12 159.39L679.02 159.43L679.93 159.47L680.84 159.51L681.74 159.56L682.65 159.6L683.55 159.65L684.46 159.69L685.36 159.74L686.27 159.78L687.18 159.83L688.08 159.88L688.99 159.93L689.89 159.98L690.8 160.03L691.7 160.08L692.61 160.13L693.51 160.18L694.42 160.23L695.33 160.28L696.23 160.33L697.14 160.38L698.04 160.44L698.95 160.49L699.85 160.54L700.76 160.6L701.67 160.65L702.57 160.7L703.48 160.76L704.38 160.81L705.29 160.86L706.19 160.92L707.1 160.97L708.01 161.02L708.91 161.08L709.82 161.13L710.72 161.19L711.63 161.24L712.53 161.29L713.44 161.35L714.34 161.4L715.25 161.45L716.16 161.51L717.06 161.56L717.97 161.62L718.87 161.67L719.78 161.72L720.68 161.78L721.59 161.83L722.5 161.88L723.4 161.94L724.31 161.99L725.21 162.05L726.12 162.1L727.02 162.16L727.93 162.21L728.83 162.26L729.74 162.32L730.65 162.37L731.55 162.43L732.46 162.48L733.36 162.54L734.27 162.59L735.17 162.65L736.08 162.7L736.99 162.76L737.89 162.82L738.8 162.88L739.7 162.94L740.61 163L741.51 163.07L742.42 163.13L743.32 163.2L744.23 163.28L745.14 163.35L746.04 163.43L746.95 163.51L747.85 163.6L748.76 163.7L749.66 163.8L750.57 163.9L751.48 164.02L752.38 164.14L753.29 164.27L754.19 164.42L755.1 164.58L756 164.75L756.91 164.94L757.82 165.15L758.72 165.37L759.63 165.63L760.53 165.91L761.44 166.23L762.34 166.58L763.25 166.96L764.15 167.37L765.06 167.81L765.97 168.27L766.87 168.73L767.78 169.2L768.68 169.68L769.59 170.16L770.49 170.65L771.4 171.15L772.31 171.65L773.21 172.15L774.12 172.65L775.02 173.15L775.93 173.66L776.83 174.16L777.74 174.66L778.64 175.16L779.55 175.66L780.46 176.17L781.36 176.67L782.27 177.17L783.17 177.67L784.08 178.17L784.98 178.68L785.89 179.18L786.8 179.68L787.7 180.18L788.61 180.68L789.51 181.18L790.42 181.69L791.32 182.19L792.23 182.69L793.13 183.19L794.04 183.69L794.95 184.2L795.85 184.7L796.76 185.2L797.66 185.7L798.57 186.2L799.47 186.71L800.38 187.21L801.29 187.71L802.19 188.21L803.1 188.71L804 189.22L804.91 189.72L805.81 190.22L806.72 190.72L807.63 191.22L808.53 191.73L809.44 192.23L810.34 192.73L811.25 193.23L812.15 193.73L813.06 194.23L813.96 194.74L814.87 195.24L815.78 195.74L816.68 196.24L817.59 196.74L818.49 197.25L819.4 197.75L820.3 198.25L821.21 198.75L822.12 199.25L823.02 199.76L823.93 200.26L824.83 200.76L825.74 201.26L826.64 201.76L827.55 202.27L828.45 202.77L829.36 203.27L830.27 203.77L831.17 204.27L832.08 204.78L832.98 205.28L833.89 205.78L834.79 206.28L835.7 206.78L836.61 207.28L837.51 207.79L838.42 208.29L839.32 208.79L840.23 209.29L841.13 209.79L842.04 210.3L842.94 210.8L843.85 211.3L844.76 211.8L845.66 212.3L846.57 212.81L847.47 213.31L848.38 213.81L849.28 214.31L850.19 214.81L851.1 215.32L852 215.82L852.91 216.32L853.81 216.82L854.72 217.32L855.62 217.83L856.53 218.33L857.44 218.83L858.34 219.33L859.25 219.83L860.15 220.33L861.06 220.84L861.96 221.34L862.87 221.84L863.77 222.34L864.68 222.84L865.59 223.35L866.49 223.85L867.4 224.35L868.3 224.85L869.21 225.35L870.11 225.86L871.02 226.36L871.93 226.86L872.83 227.36L873.74 227.86L874.64 228.37L875.55 228.87L876.45 229.37L877.36 229.87L878.26 230.37L879.17 230.88L880.08 231.38L880.98 231.88L881.89 232.38L882.79 232.88L883.7 233.39L884.6 233.89L885.51 234.39L886.42 234.89L887.32 235.39L888.23 235.89L889.13 236.4L890.04 236.9L890.94 237.4L891.85 237.9L892.75 238.4L893.66 238.91L894.57 239.41L895.47 239.91L896.38 240.41L897.28 240.91L898.19 241.42L899.09 241.92L900 242.42L1369.4 502.57" stroke="#231f20" stroke-width="5.3"/>
</g>
<clipPath id="cb"><rect x="211.7" y="609.1" width="1156.5" height="452.69999999999993"/></clipPath>
<g fill="none" clip-path="url(#cb)">
<path d="M524.3 810.47L525.49 809.5L526.69 808.53L527.88 807.56L529.07 806.59L530.27 805.62L531.46 804.65L532.65 803.68L533.84 802.71L535.04 801.73L536.23 800.76L537.42 799.79L538.62 798.82L539.81 797.85L541 796.88L542.2 795.91L543.39 794.94L544.58 793.97L545.78 793L546.97 792.02L548.16 791.05L549.36 790.08L550.55 789.12L551.74 788.15L552.93 787.19L554.13 786.24L555.32 785.28L556.51 784.34L557.71 783.39L558.9 782.45L560.09 781.51L561.29 780.57L562.48 779.65L563.67 778.74L564.87 777.83L566.06 776.94L567.25 776.06L568.44 775.19L569.64 774.33L570.83 773.48L572.02 772.64L573.22 771.81L574.41 771L575.6 770.2L576.8 769.42L577.99 768.66L579.18 767.91L580.38 767.17L581.57 766.45L582.76 765.75L583.95 765.06L585.15 764.38L586.34 763.73L587.53 763.09L588.73 762.47L589.92 761.86L591.11 761.27L592.31 760.7L593.5 760.14L594.69 759.6L595.89 759.08L597.08 758.57L598.27 758.08L599.47 757.6L600.66 757.14L601.85 756.69L603.04 756.25L604.24 755.83L605.43 755.42L606.62 755.02L607.82 754.64L609.01 754.27L610.2 753.91L611.4 753.56L612.59 753.22L613.78 752.89L614.98 752.57L616.17 752.26L617.36 751.96L618.55 751.67L619.75 751.38L620.94 751.11L622.13 750.85L623.33 750.59L624.52 750.33L625.71 750.08L626.91 749.84L628.1 749.61L629.29 749.38L630.49 749.16L631.68 748.94L632.87 748.73L634.06 748.52L635.26 748.32L636.45 748.12L637.64 747.93L638.84 747.75L640.03 747.57L641.22 747.39L642.42 747.22L643.61 747.06L644.8 746.9L646 746.74L647.19 746.59L648.38 746.45L649.58 746.3L650.77 746.17L651.96 746.04L653.15 745.91L654.35 745.79L655.54 745.68L656.73 745.57L657.93 745.46L659.12 745.36L660.31 745.26L661.51 745.16L662.7 745.07L663.89 744.98L665.09 744.9L666.28 744.82L667.47 744.75L668.66 744.68L669.86 744.61L671.05 744.55L672.24 744.49L673.44 744.43L674.63 744.38L675.82 744.34L677.02 744.3L678.21 744.26L679.4 744.22L680.6 744.19L681.79 744.17L682.98 744.15L684.17 744.13L685.37 744.11L686.56 744.1L687.75 744.09L688.95 744.09L690.14 744.09L691.33 744.09L692.53 744.09L693.72 744.1L694.91 744.11L696.11 744.13L697.3 744.14L698.49 744.16L699.69 744.18L700.88 744.2L702.07 744.23L703.26 744.26L704.46 744.29L705.65 744.32L706.84 744.35L708.04 744.39L709.23 744.43L710.42 744.47L711.62 744.51L712.81 744.56L714 744.6L715.2 744.65L716.39 744.71L717.58 744.76L718.77 744.82L719.97 744.88L721.16 744.94L722.35 745.01L723.55 745.08L724.74 745.15L725.93 745.23L727.13 745.3L728.32 745.39L729.51 745.47L730.71 745.56L731.9 745.65L733.09 745.74L734.28 745.84L735.48 745.94L736.67 746.05L737.86 746.16L739.06 746.27L740.25 746.39L741.44 746.51L742.64 746.63L743.83 746.76L745.02 746.9L746.22 747.04L747.41 747.19L748.6 747.34L749.8 747.5L750.99 747.66L752.18 747.83L753.37 748L754.57 748.18L755.76 748.38L756.95 748.57L758.15 748.78L759.34 749L760.53 749.22L761.73 749.45L762.92 749.69L764.11 749.94L765.31 750.19L766.5 750.46L767.69 750.74L768.88 751.02L770.08 751.32L771.27 751.63L772.46 751.95L773.66 752.28L774.85 752.61L776.04 752.96L777.24 753.32L778.43 753.69L779.62 754.07L780.82 754.46L782.01 754.86L783.2 755.27L784.39 755.68L785.59 756.11L786.78 756.55L787.97 757L789.17 757.45L790.36 757.91L791.55 758.38L792.75 758.86L793.94 759.34L795.13 759.83L796.33 760.32L797.52 760.82L798.71 761.33L799.91 761.85L801.1 762.37L802.29 762.89L803.48 763.42L804.68 763.95L805.87 764.49L807.06 765.02L808.26 765.57L809.45 766.11L810.64 766.66L811.84 767.21L813.03 767.77L814.22 768.33L815.42 768.88L816.61 769.45L817.8 770.01L818.99 770.57L820.19 771.14L821.38 771.71L822.57 772.28L823.77 772.85L824.96 773.42L826.15 774L827.35 774.57L828.54 775.15L829.73 775.73L830.93 776.31L832.12 776.88L833.31 777.46L834.5 778.04L835.7 778.62L836.89 779.21L838.08 779.79L839.28 780.37L840.47 780.95L841.66 781.53L842.86 782.12L844.05 782.7L845.24 783.28L846.44 783.86L847.63 784.44L848.82 785.03L850.02 785.61L851.21 786.19L852.4 786.78L853.59 787.36L854.79 787.94L855.98 788.53L857.17 789.11L858.37 789.7L859.56 790.28L860.75 790.87L861.95 791.45L863.14 792.04L864.33 792.63L865.53 793.22L866.72 793.81L867.91 794.4L869.1 794.99L870.3 795.59L871.49 796.18L872.68 796.78L873.88 797.38L875.07 797.97L876.26 798.57L877.46 799.18L878.65 799.78L879.84 800.38L881.04 800.99L882.23 801.59L883.42 802.2L884.61 802.81L885.81 803.42L887 804.03L888.19 804.64L889.39 805.25L890.58 805.86L891.77 806.47L892.97 807.08L894.16 807.69L895.35 808.31L896.55 808.92L897.74 809.53L898.93 810.15L900.13 810.76L901.32 811.37L902.51 811.98L903.7 812.6L904.9 813.21L906.09 813.82L907.28 814.44L908.48 815.05L909.67 815.66L910.86 816.28L912.06 816.89L913.25 817.51L914.44 818.12L915.64 818.74L916.83 819.35L918.02 819.97L919.21 820.59L920.41 821.2L921.6 821.82L922.79 822.44L923.99 823.06L925.18 823.69L926.37 824.31L927.57 824.93L928.76 825.56L929.95 826.18L931.15 826.81L932.34 827.44L933.53 828.06L934.72 828.69L935.92 829.32L937.11 829.95L938.3 830.58L939.5 831.21L940.69 831.84L941.88 832.47L943.08 833.1L944.27 833.74L945.46 834.37L946.66 835L947.85 835.63L949.04 836.26L950.24 836.89L951.43 837.53L952.62 838.16L953.81 838.79L955.01 839.42L956.2 840.05L957.39 840.69L958.59 841.32L959.78 841.95L960.97 842.59L962.17 843.22L963.36 843.86L964.55 844.5L965.75 845.13L966.94 845.77L968.13 846.41L969.32 847.05L970.52 847.69L971.71 848.34L972.9 848.98L974.1 849.63L975.29 850.28L976.48 850.92L977.68 851.57L978.87 852.22L980.06 852.88L981.26 853.53L982.45 854.18L983.64 854.84L984.83 855.49L986.03 856.15L987.22 856.8L988.41 857.46L989.61 858.11L990.8 858.77L991.99 859.42L993.19 860.08L994.38 860.73L995.57 861.39L996.77 862.05L997.96 862.7L999.15 863.36L1000.35 864.01L1001.54 864.67L1002.73 865.32L1003.92 865.98L1005.12 866.63L1006.31 867.29L1007.5 867.95L1008.7 868.6L1009.89 869.26L1011.08 869.91L1012.28 870.57L1013.47 871.22L1014.66 871.88L1015.86 872.54L1017.05 873.19L1018.24 873.85L1019.43 874.5L1020.63 875.16L1021.82 875.81L1023.01 876.47L1024.21 877.13L1025.4 877.78L1026.59 878.44L1027.79 879.09L1028.98 879.75L1030.17 880.4L1031.37 881.06L1032.56 881.71L1033.75 882.37L1034.94 883.03L1036.14 883.68L1037.33 884.34L1038.52 884.99L1039.72 885.65L1040.91 886.3L1042.1 886.96L1043.3 887.62L1044.49 888.27L1045.68 888.93L1046.88 889.58L1048.07 890.24L1049.26 890.89L1050.46 891.55L1051.65 892.21L1052.84 892.86L1054.03 893.52L1055.23 894.17L1056.42 894.83L1057.61 895.48L1058.81 896.14L1060 896.79L1200 973.73L1375 1070.44" stroke="#b3b5b8" stroke-width="3.2"/>
<path d="M524.3 827.68L525.49 826.7L526.69 825.73L527.88 824.75L529.07 823.78L530.27 822.8L531.46 821.83L532.65 820.86L533.84 819.88L535.04 818.91L536.23 817.93L537.42 816.96L538.62 815.98L539.81 815.01L541 814.04L542.2 813.06L543.39 812.09L544.58 811.11L545.78 810.14L546.97 809.16L548.16 808.19L549.36 807.22L550.55 806.25L551.74 805.28L552.93 804.32L554.13 803.36L555.32 802.4L556.51 801.45L557.71 800.5L558.9 799.55L560.09 798.61L561.29 797.67L562.48 796.75L563.67 795.83L564.87 794.93L566.06 794.03L567.25 793.15L568.44 792.27L569.64 791.41L570.83 790.55L572.02 789.71L573.22 788.88L574.41 788.07L575.6 787.27L576.8 786.48L577.99 785.71L579.18 784.96L580.38 784.22L581.57 783.5L582.76 782.79L583.95 782.1L585.15 781.42L586.34 780.76L587.53 780.12L588.73 779.49L589.92 778.88L591.11 778.29L592.31 777.71L593.5 777.15L594.69 776.61L595.89 776.09L597.08 775.58L598.27 775.08L599.47 774.6L600.66 774.13L601.85 773.68L603.04 773.24L604.24 772.81L605.43 772.4L606.62 772L607.82 771.61L609.01 771.24L610.2 770.88L611.4 770.52L612.59 770.18L613.78 769.85L614.98 769.52L616.17 769.21L617.36 768.91L618.55 768.61L619.75 768.33L620.94 768.05L622.13 767.78L623.33 767.52L624.52 767.26L625.71 767.01L626.91 766.76L628.1 766.53L629.29 766.29L630.49 766.07L631.68 765.85L632.87 765.63L634.06 765.42L635.26 765.22L636.45 765.02L637.64 764.83L638.84 764.64L640.03 764.45L641.22 764.28L642.42 764.1L643.61 763.93L644.8 763.77L646 763.61L647.19 763.46L648.38 763.31L649.58 763.16L650.77 763.03L651.96 762.89L653.15 762.76L654.35 762.64L655.54 762.52L656.73 762.41L657.93 762.3L659.12 762.19L660.31 762.09L661.51 761.99L662.7 761.9L663.89 761.81L665.09 761.72L666.28 761.64L667.47 761.56L668.66 761.48L669.86 761.41L671.05 761.35L672.24 761.29L673.44 761.23L674.63 761.17L675.82 761.13L677.02 761.08L678.21 761.04L679.4 761L680.6 760.97L681.79 760.94L682.98 760.91L684.17 760.89L685.37 760.87L686.56 760.86L687.75 760.85L688.95 760.84L690.14 760.84L691.33 760.83L692.53 760.84L693.72 760.84L694.91 760.85L696.11 760.86L697.3 760.87L698.49 760.89L699.69 760.9L700.88 760.92L702.07 760.95L703.26 760.97L704.46 761L705.65 761.02L706.84 761.05L708.04 761.09L709.23 761.12L710.42 761.16L711.62 761.2L712.81 761.24L714 761.29L715.2 761.33L716.39 761.38L717.58 761.44L718.77 761.49L719.97 761.55L721.16 761.61L722.35 761.67L723.55 761.74L724.74 761.81L725.93 761.88L727.13 761.95L728.32 762.03L729.51 762.11L730.71 762.2L731.9 762.28L733.09 762.37L734.28 762.47L735.48 762.57L736.67 762.67L737.86 762.78L739.06 762.89L740.25 763L741.44 763.12L742.64 763.24L743.83 763.37L745.02 763.5L746.22 763.64L747.41 763.78L748.6 763.93L749.8 764.08L750.99 764.24L752.18 764.41L753.37 764.58L754.57 764.76L755.76 764.95L756.95 765.14L758.15 765.34L759.34 765.56L760.53 765.78L761.73 766L762.92 766.24L764.11 766.48L765.31 766.74L766.5 767L767.69 767.27L768.88 767.56L770.08 767.85L771.27 768.16L772.46 768.47L773.66 768.8L774.85 769.13L776.04 769.48L777.24 769.84L778.43 770.2L779.62 770.58L780.82 770.96L782.01 771.36L783.2 771.76L784.39 772.18L785.59 772.6L786.78 773.03L787.97 773.48L789.17 773.93L790.36 774.39L791.55 774.85L792.75 775.33L793.94 775.8L795.13 776.29L796.33 776.78L797.52 777.28L798.71 777.78L799.91 778.3L801.1 778.81L802.29 779.33L803.48 779.86L804.68 780.39L805.87 780.92L807.06 781.45L808.26 781.99L809.45 782.53L810.64 783.08L811.84 783.63L813.03 784.18L814.22 784.74L815.42 785.29L816.61 785.85L817.8 786.41L818.99 786.97L820.19 787.53L821.38 788.1L822.57 788.67L823.77 789.24L824.96 789.81L826.15 790.38L827.35 790.95L828.54 791.52L829.73 792.1L830.93 792.67L832.12 793.25L833.31 793.82L834.5 794.4L835.7 794.98L836.89 795.55L838.08 796.13L839.28 796.71L840.47 797.29L841.66 797.87L842.86 798.45L844.05 799.03L845.24 799.61L846.44 800.18L847.63 800.76L848.82 801.34L850.02 801.92L851.21 802.5L852.4 803.08L853.59 803.66L854.79 804.24L855.98 804.82L857.17 805.41L858.37 805.99L859.56 806.57L860.75 807.15L861.95 807.73L863.14 808.32L864.33 808.9L865.53 809.49L866.72 810.08L867.91 810.67L869.1 811.25L870.3 811.85L871.49 812.44L872.68 813.03L873.88 813.62L875.07 814.22L876.26 814.82L877.46 815.41L878.65 816.01L879.84 816.61L881.04 817.21L882.23 817.82L883.42 818.42L884.61 819.03L885.81 819.63L887 820.24L888.19 820.85L889.39 821.45L890.58 822.06L891.77 822.67L892.97 823.28L894.16 823.89L895.35 824.5L896.55 825.11L897.74 825.71L898.93 826.32L900.13 826.93L901.32 827.54L902.51 828.15L903.7 828.76L904.9 829.37L906.09 829.98L907.28 830.59L908.48 831.2L909.67 831.81L910.86 832.42L912.06 833.03L913.25 833.65L914.44 834.26L915.64 834.87L916.83 835.48L918.02 836.1L919.21 836.71L920.41 837.33L921.6 837.94L922.79 838.56L923.99 839.17L925.18 839.79L926.37 840.41L927.57 841.03L928.76 841.65L929.95 842.28L931.15 842.9L932.34 843.52L933.53 844.15L934.72 844.77L935.92 845.4L937.11 846.03L938.3 846.65L939.5 847.28L940.69 847.91L941.88 848.53L943.08 849.16L944.27 849.79L945.46 850.42L946.66 851.05L947.85 851.68L949.04 852.3L950.24 852.93L951.43 853.56L952.62 854.19L953.81 854.82L955.01 855.45L956.2 856.08L957.39 856.7L958.59 857.33L959.78 857.97L960.97 858.6L962.17 859.23L963.36 859.86L964.55 860.5L965.75 861.13L966.94 861.77L968.13 862.4L969.32 863.04L970.52 863.68L971.71 864.32L972.9 864.96L974.1 865.6L975.29 866.25L976.48 866.89L977.68 867.54L978.87 868.19L980.06 868.84L981.26 869.49L982.45 870.14L983.64 870.79L984.83 871.44L986.03 872.09L987.22 872.74L988.41 873.39L989.61 874.04L990.8 874.7L991.99 875.35L993.19 876L994.38 876.65L995.57 877.31L996.77 877.96L997.96 878.61L999.15 879.26L1000.35 879.91L1001.54 880.57L1002.73 881.22L1003.92 881.87L1005.12 882.52L1006.31 883.18L1007.5 883.83L1008.7 884.48L1009.89 885.13L1011.08 885.79L1012.28 886.44L1013.47 887.09L1014.66 887.74L1015.86 888.4L1017.05 889.05L1018.24 889.7L1019.43 890.35L1020.63 891.01L1021.82 891.66L1023.01 892.31L1024.21 892.96L1025.4 893.61L1026.59 894.27L1027.79 894.92L1028.98 895.57L1030.17 896.22L1031.37 896.88L1032.56 897.53L1033.75 898.18L1034.94 898.83L1036.14 899.49L1037.33 900.14L1038.52 900.79L1039.72 901.44L1040.91 902.1L1042.1 902.75L1043.3 903.4L1044.49 904.05L1045.68 904.71L1046.88 905.36L1048.07 906.01L1049.26 906.66L1050.46 907.32L1051.65 907.97L1052.84 908.62L1054.03 909.27L1055.23 909.92L1056.42 910.58L1057.61 911.23L1058.81 911.88L1060 912.53L1200 989.09L1375 1085.32" stroke="#b3b5b8" stroke-width="3.2"/>
<path d="M524.3 846.67L525.49 845.7L526.69 844.73L527.88 843.76L529.07 842.79L530.27 841.82L531.46 840.85L532.65 839.88L533.84 838.91L535.04 837.93L536.23 836.96L537.42 835.99L538.62 835.02L539.81 834.05L541 833.08L542.2 832.11L543.39 831.14L544.58 830.17L545.78 829.2L546.97 828.22L548.16 827.25L549.36 826.28L550.55 825.32L551.74 824.35L552.93 823.39L554.13 822.44L555.32 821.48L556.51 820.54L557.71 819.59L558.9 818.65L560.09 817.71L561.29 816.77L562.48 815.85L563.67 814.94L564.87 814.03L566.06 813.14L567.25 812.26L568.44 811.39L569.64 810.53L570.83 809.68L572.02 808.84L573.22 808.01L574.41 807.2L575.6 806.4L576.8 805.62L577.99 804.86L579.18 804.11L580.38 803.37L581.57 802.65L582.76 801.95L583.95 801.26L585.15 800.58L586.34 799.93L587.53 799.29L588.73 798.67L589.92 798.06L591.11 797.47L592.31 796.9L593.5 796.34L594.69 795.8L595.89 795.28L597.08 794.77L598.27 794.28L599.47 793.8L600.66 793.34L601.85 792.89L603.04 792.45L604.24 792.03L605.43 791.62L606.62 791.22L607.82 790.84L609.01 790.47L610.2 790.11L611.4 789.76L612.59 789.42L613.78 789.09L614.98 788.77L616.17 788.46L617.36 788.16L618.55 787.87L619.75 787.58L620.94 787.31L622.13 787.05L623.33 786.79L624.52 786.53L625.71 786.28L626.91 786.04L628.1 785.81L629.29 785.58L630.49 785.36L631.68 785.14L632.87 784.93L634.06 784.72L635.26 784.52L636.45 784.32L637.64 784.13L638.84 783.95L640.03 783.77L641.22 783.59L642.42 783.42L643.61 783.26L644.8 783.1L646 782.94L647.19 782.79L648.38 782.65L649.58 782.5L650.77 782.37L651.96 782.24L653.15 782.11L654.35 781.99L655.54 781.88L656.73 781.77L657.93 781.66L659.12 781.56L660.31 781.46L661.51 781.36L662.7 781.27L663.89 781.18L665.09 781.1L666.28 781.02L667.47 780.95L668.66 780.88L669.86 780.81L671.05 780.75L672.24 780.69L673.44 780.63L674.63 780.58L675.82 780.54L677.02 780.5L678.21 780.46L679.4 780.42L680.6 780.39L681.79 780.37L682.98 780.35L684.17 780.33L685.37 780.31L686.56 780.3L687.75 780.29L688.95 780.29L690.14 780.29L691.33 780.29L692.53 780.29L693.72 780.3L694.91 780.31L696.11 780.33L697.3 780.34L698.49 780.36L699.69 780.38L700.88 780.4L702.07 780.43L703.26 780.46L704.46 780.49L705.65 780.52L706.84 780.55L708.04 780.59L709.23 780.63L710.42 780.67L711.62 780.71L712.81 780.76L714 780.8L715.2 780.85L716.39 780.91L717.58 780.96L718.77 781.02L719.97 781.08L721.16 781.14L722.35 781.21L723.55 781.28L724.74 781.35L725.93 781.43L727.13 781.5L728.32 781.59L729.51 781.67L730.71 781.76L731.9 781.85L733.09 781.94L734.28 782.04L735.48 782.14L736.67 782.25L737.86 782.36L739.06 782.47L740.25 782.59L741.44 782.71L742.64 782.83L743.83 782.96L745.02 783.1L746.22 783.24L747.41 783.39L748.6 783.54L749.8 783.7L750.99 783.86L752.18 784.03L753.37 784.2L754.57 784.38L755.76 784.58L756.95 784.77L758.15 784.98L759.34 785.2L760.53 785.42L761.73 785.65L762.92 785.89L764.11 786.14L765.31 786.39L766.5 786.66L767.69 786.94L768.88 787.22L770.08 787.52L771.27 787.83L772.46 788.15L773.66 788.48L774.85 788.81L776.04 789.16L777.24 789.52L778.43 789.89L779.62 790.27L780.82 790.66L782.01 791.06L783.2 791.47L784.39 791.88L785.59 792.31L786.78 792.75L787.97 793.2L789.17 793.65L790.36 794.11L791.55 794.58L792.75 795.06L793.94 795.54L795.13 796.03L796.33 796.52L797.52 797.02L798.71 797.53L799.91 798.05L801.1 798.57L802.29 799.09L803.48 799.62L804.68 800.15L805.87 800.69L807.06 801.22L808.26 801.77L809.45 802.31L810.64 802.86L811.84 803.41L813.03 803.97L814.22 804.53L815.42 805.08L816.61 805.65L817.8 806.21L818.99 806.77L820.19 807.34L821.38 807.91L822.57 808.48L823.77 809.05L824.96 809.62L826.15 810.2L827.35 810.77L828.54 811.35L829.73 811.93L830.93 812.51L832.12 813.08L833.31 813.66L834.5 814.24L835.7 814.82L836.89 815.41L838.08 815.99L839.28 816.57L840.47 817.15L841.66 817.73L842.86 818.32L844.05 818.9L845.24 819.48L846.44 820.06L847.63 820.64L848.82 821.23L850.02 821.81L851.21 822.39L852.4 822.98L853.59 823.56L854.79 824.14L855.98 824.73L857.17 825.31L858.37 825.9L859.56 826.48L860.75 827.07L861.95 827.65L863.14 828.24L864.33 828.83L865.53 829.42L866.72 830.01L867.91 830.6L869.1 831.19L870.3 831.79L871.49 832.38L872.68 832.98L873.88 833.58L875.07 834.17L876.26 834.77L877.46 835.38L878.65 835.98L879.84 836.58L881.04 837.19L882.23 837.79L883.42 838.4L884.61 839.01L885.81 839.62L887 840.23L888.19 840.84L889.39 841.45L890.58 842.06L891.77 842.67L892.97 843.28L894.16 843.89L895.35 844.51L896.55 845.12L897.74 845.73L898.93 846.35L900.13 846.96L901.32 847.57L902.51 848.18L903.7 848.8L904.9 849.41L906.09 850.02L907.28 850.64L908.48 851.25L909.67 851.86L910.86 852.48L912.06 853.09L913.25 853.71L914.44 854.32L915.64 854.94L916.83 855.55L918.02 856.17L919.21 856.79L920.41 857.4L921.6 858.02L922.79 858.64L923.99 859.26L925.18 859.89L926.37 860.51L927.57 861.13L928.76 861.76L929.95 862.38L931.15 863.01L932.34 863.64L933.53 864.26L934.72 864.89L935.92 865.52L937.11 866.15L938.3 866.78L939.5 867.41L940.69 868.04L941.88 868.67L943.08 869.3L944.27 869.94L945.46 870.57L946.66 871.2L947.85 871.83L949.04 872.46L950.24 873.09L951.43 873.73L952.62 874.36L953.81 874.99L955.01 875.62L956.2 876.25L957.39 876.89L958.59 877.52L959.78 878.15L960.97 878.79L962.17 879.42L963.36 880.06L964.55 880.7L965.75 881.33L966.94 881.97L968.13 882.61L969.32 883.25L970.52 883.89L971.71 884.54L972.9 885.18L974.1 885.83L975.29 886.48L976.48 887.12L977.68 887.77L978.87 888.42L980.06 889.08L981.26 889.73L982.45 890.38L983.64 891.04L984.83 891.69L986.03 892.35L987.22 893L988.41 893.66L989.61 894.31L990.8 894.97L991.99 895.62L993.19 896.28L994.38 896.93L995.57 897.59L996.77 898.25L997.96 898.9L999.15 899.56L1000.35 900.21L1001.54 900.87L1002.73 901.52L1003.92 902.18L1005.12 902.83L1006.31 903.49L1007.5 904.15L1008.7 904.8L1009.89 905.46L1011.08 906.11L1012.28 906.77L1013.47 907.42L1014.66 908.08L1015.86 908.74L1017.05 909.39L1018.24 910.05L1019.43 910.7L1020.63 911.36L1021.82 912.01L1023.01 912.67L1024.21 913.33L1025.4 913.98L1026.59 914.64L1027.79 915.29L1028.98 915.95L1030.17 916.6L1031.37 917.26L1032.56 917.91L1033.75 918.57L1034.94 919.23L1036.14 919.88L1037.33 920.54L1038.52 921.19L1039.72 921.85L1040.91 922.5L1042.1 923.16L1043.3 923.82L1044.49 924.47L1045.68 925.13L1046.88 925.78L1048.07 926.44L1049.26 927.09L1050.46 927.75L1051.65 928.41L1052.84 929.06L1054.03 929.72L1055.23 930.37L1056.42 931.03L1057.61 931.68L1058.81 932.34L1060 932.99L1200 1009.93L1375 1106.64" stroke="#b3b5b8" stroke-width="3.2"/>
<path d="M524.3 815.47L525.49 814.5L526.69 813.53L527.88 812.56L529.07 811.59L530.27 810.62L531.46 809.65L532.65 808.68L533.84 807.71L535.04 806.73L536.23 805.76L537.42 804.79L538.62 803.82L539.81 802.85L541 801.88L542.2 800.91L543.39 799.94L544.58 798.97L545.78 798L546.97 797.02L548.16 796.05L549.36 795.08L550.55 794.12L551.74 793.15L552.93 792.19L554.13 791.24L555.32 790.28L556.51 789.34L557.71 788.39L558.9 787.45L560.09 786.51L561.29 785.57L562.48 784.65L563.67 783.74L564.87 782.83L566.06 781.94L567.25 781.06L568.44 780.19L569.64 779.33L570.83 778.48L572.02 777.64L573.22 776.81L574.41 776L575.6 775.2L576.8 774.42L577.99 773.66L579.18 772.91L580.38 772.17L581.57 771.45L582.76 770.75L583.95 770.06L585.15 769.38L586.34 768.73L587.53 768.09L588.73 767.47L589.92 766.86L591.11 766.27L592.31 765.7L593.5 765.14L594.69 764.6L595.89 764.08L597.08 763.57L598.27 763.08L599.47 762.6L600.66 762.14L601.85 761.69L603.04 761.25L604.24 760.83L605.43 760.42L606.62 760.02L607.82 759.64L609.01 759.27L610.2 758.91L611.4 758.56L612.59 758.22L613.78 757.89L614.98 757.57L616.17 757.26L617.36 756.96L618.55 756.67L619.75 756.38L620.94 756.11L622.13 755.85L623.33 755.59L624.52 755.33L625.71 755.08L626.91 754.84L628.1 754.61L629.29 754.38L630.49 754.16L631.68 753.94L632.87 753.73L634.06 753.52L635.26 753.32L636.45 753.12L637.64 752.93L638.84 752.75L640.03 752.57L641.22 752.39L642.42 752.22L643.61 752.06L644.8 751.9L646 751.74L647.19 751.59L648.38 751.45L649.58 751.3L650.77 751.17L651.96 751.04L653.15 750.91L654.35 750.79L655.54 750.68L656.73 750.57L657.93 750.46L659.12 750.36L660.31 750.26L661.51 750.16L662.7 750.07L663.89 749.98L665.09 749.9L666.28 749.82L667.47 749.75L668.66 749.68L669.86 749.61L671.05 749.55L672.24 749.49L673.44 749.43L674.63 749.38L675.82 749.34L677.02 749.3L678.21 749.26L679.4 749.22L680.6 749.19L681.79 749.17L682.98 749.15L684.17 749.13L685.37 749.11L686.56 749.1L687.75 749.09L688.95 749.09L690.14 749.09L691.33 749.09L692.53 749.09L693.72 749.1L694.91 749.11L696.11 749.13L697.3 749.14L698.49 749.16L699.69 749.18L700.88 749.2L702.07 749.23L703.26 749.26L704.46 749.29L705.65 749.32L706.84 749.35L708.04 749.39L709.23 749.43L710.42 749.47L711.62 749.51L712.81 749.56L714 749.6L715.2 749.65L716.39 749.71L717.58 749.76L718.77 749.82L719.97 749.88L721.16 749.94L722.35 750.01L723.55 750.08L724.74 750.15L725.93 750.23L727.13 750.3L728.32 750.39L729.51 750.47L730.71 750.56L731.9 750.65L733.09 750.74L734.28 750.84L735.48 750.94L736.67 751.05L737.86 751.16L739.06 751.27L740.25 751.39L741.44 751.51L742.64 751.63L743.83 751.76L745.02 751.9L746.22 752.04L747.41 752.19L748.6 752.34L749.8 752.5L750.99 752.66L752.18 752.83L753.37 753L754.57 753.18L755.76 753.38L756.95 753.57L758.15 753.78L759.34 754L760.53 754.22L761.73 754.45L762.92 754.69L764.11 754.94L765.31 755.19L766.5 755.46L767.69 755.74L768.88 756.02L770.08 756.32L771.27 756.63L772.46 756.95L773.66 757.28L774.85 757.61L776.04 757.96L777.24 758.32L778.43 758.69L779.62 759.07L780.82 759.46L782.01 759.86L783.2 760.27L784.39 760.68L785.59 761.11L786.78 761.55L787.97 762L789.17 762.45L790.36 762.91L791.55 763.38L792.75 763.86L793.94 764.34L795.13 764.83L796.33 765.32L797.52 765.82L798.71 766.33L799.91 766.85L801.1 767.37L802.29 767.89L803.48 768.42L804.68 768.95L805.87 769.49L807.06 770.02L808.26 770.57L809.45 771.11L810.64 771.66L811.84 772.21L813.03 772.77L814.22 773.33L815.42 773.88L816.61 774.45L817.8 775.01L818.99 775.57L820.19 776.14L821.38 776.71L822.57 777.28L823.77 777.85L824.96 778.42L826.15 779L827.35 779.57L828.54 780.15L829.73 780.73L830.93 781.31L832.12 781.88L833.31 782.46L834.5 783.04L835.7 783.62L836.89 784.21L838.08 784.79L839.28 785.37L840.47 785.95L841.66 786.53L842.86 787.12L844.05 787.7L845.24 788.28L846.44 788.86L847.63 789.44L848.82 790.03L850.02 790.61L851.21 791.19L852.4 791.78L853.59 792.36L854.79 792.94L855.98 793.53L857.17 794.11L858.37 794.7L859.56 795.28L860.75 795.87L861.95 796.45L863.14 797.04L864.33 797.63L865.53 798.22L866.72 798.81L867.91 799.4L869.1 799.99L870.3 800.59L871.49 801.18L872.68 801.78L873.88 802.38L875.07 802.97L876.26 803.57L877.46 804.18L878.65 804.78L879.84 805.38L881.04 805.99L882.23 806.59L883.42 807.2L884.61 807.81L885.81 808.42L887 809.03L888.19 809.64L889.39 810.25L890.58 810.86L891.77 811.47L892.97 812.08L894.16 812.69L895.35 813.31L896.55 813.92L897.74 814.53L898.93 815.15L900.13 815.76L901.32 816.37L902.51 816.98L903.7 817.6L904.9 818.21L906.09 818.82L907.28 819.44L908.48 820.05L909.67 820.66L910.86 821.28L912.06 821.89L913.25 822.51L914.44 823.12L915.64 823.74L916.83 824.35L918.02 824.97L919.21 825.59L920.41 826.2L921.6 826.82L922.79 827.44L923.99 828.06L925.18 828.69L926.37 829.31L927.57 829.93L928.76 830.56L929.95 831.18L931.15 831.81L932.34 832.44L933.53 833.06L934.72 833.69L935.92 834.32L937.11 834.95L938.3 835.58L939.5 836.21L940.69 836.84L941.88 837.47L943.08 838.1L944.27 838.74L945.46 839.37L946.66 840L947.85 840.63L949.04 841.26L950.24 841.89L951.43 842.53L952.62 843.16L953.81 843.79L955.01 844.42L956.2 845.05L957.39 845.69L958.59 846.32L959.78 846.95L960.97 847.59L962.17 848.22L963.36 848.86L964.55 849.5L965.75 850.13L966.94 850.77L968.13 851.41L969.32 852.05L970.52 852.69L971.71 853.34L972.9 853.98L974.1 854.63L975.29 855.28L976.48 855.92L977.68 856.57L978.87 857.22L980.06 857.88L981.26 858.53L982.45 859.18L983.64 859.84L984.83 860.49L986.03 861.15L987.22 861.8L988.41 862.46L989.61 863.11L990.8 863.77L991.99 864.42L993.19 865.08L994.38 865.73L995.57 866.39L996.77 867.05L997.96 867.7L999.15 868.36L1000.35 869.01L1001.54 869.67L1002.73 870.32L1003.92 870.98L1005.12 871.63L1006.31 872.29L1007.5 872.95L1008.7 873.6L1009.89 874.26L1011.08 874.91L1012.28 875.57L1013.47 876.22L1014.66 876.88L1015.86 877.54L1017.05 878.19L1018.24 878.85L1019.43 879.5L1020.63 880.16L1021.82 880.81L1023.01 881.47L1024.21 882.13L1025.4 882.78L1026.59 883.44L1027.79 884.09L1028.98 884.75L1030.17 885.4L1031.37 886.06L1032.56 886.71L1033.75 887.37L1034.94 888.03L1036.14 888.68L1037.33 889.34L1038.52 889.99L1039.72 890.65L1040.91 891.3L1042.1 891.96L1043.3 892.62L1044.49 893.27L1045.68 893.93L1046.88 894.58L1048.07 895.24L1049.26 895.89L1050.46 896.55L1051.65 897.21L1052.84 897.86L1054.03 898.52L1055.23 899.17L1056.42 899.83L1057.61 900.48L1058.81 901.14L1060 901.79L1200 978.73L1375 1075.44" stroke="#231f20" stroke-width="5.9"/>
</g>
<circle cx="270.3" cy="143.9" r="31.5" fill="#231f20"/><circle cx="270.3" cy="653.1" r="31.5" fill="#231f20"/>
<rect x="247.3" y="443.2" width="349.59999999999997" height="85.69999999999999" fill="#fff" stroke="#231f20" stroke-width="1.8"/>
<path d="M209.6 580L228 561.7V573.4H246V586.6H228V598.3Z" fill="#939598"/>
<rect x="246" y="573.4" width="159.3" height="13.2" fill="#d1d3d4"/>
<rect x="405.3" y="573.4" width="18.7" height="13.2" fill="#939598"/>
<path d="M775.5 649.5L794.6 630.8V643.2H940.6V655.8H794.6V668.2Z" fill="#939598"/>
<path d="M1367 649.5L1347.8 630.8V643.2H1214.5V655.8H1347.8V668.2Z" fill="#939598"/>
<defs><clipPath id="c0"><path d="M-55 -82.5H146.77V-5.61H-55ZM-55 -6.61H0.54V27.5H-55ZM13.83 -6.61H18.69V27.5H13.83ZM30.59 -6.61H146.77V27.5H30.59Z"/></clipPath><clipPath id="c1"><path d="M-31 -46.5H48.25V-3.82H-31ZM-31 -4.82H0.3V15.5H-31ZM7.8 -4.82H10.54V15.5H7.8ZM17.24 -4.82H48.25V15.5H17.24Z"/></clipPath><clipPath id="c2"><path d="M-50 -75H122.27V-5.24H-50ZM-50 -6.24H0.49V25H-50ZM12.57 -6.24H16.99V25H12.57ZM27.81 -6.24H122.27V25H27.81Z"/></clipPath><clipPath id="c3"><path d="M-63 -94.5H133.08V-6.21H-63ZM-63 -7.21H0.62V31.5H-63ZM15.84 -7.21H21.41V31.5H15.84ZM35.04 -7.21H133.08V31.5H35.04Z"/></clipPath><clipPath id="c4"><path d="M-63 -94.5H168.12V-6.21H-63ZM-63 -7.21H0.62V31.5H-63ZM15.84 -7.21H21.41V31.5H15.84ZM35.04 -7.21H168.12V31.5H35.04Z"/></clipPath><clipPath id="c5"><path d="M-63 -94.5H133.08V-6.21H-63ZM-63 -7.21H0.62V31.5H-63ZM15.84 -7.21H21.41V31.5H15.84ZM35.04 -7.21H133.08V31.5H35.04Z"/></clipPath><clipPath id="c6"><path d="M-63 -94.5H133.08V-6.21H-63ZM-63 -7.21H0.62V31.5H-63ZM15.84 -7.21H21.41V31.5H15.84ZM35.04 -7.21H133.08V31.5H35.04Z"/></clipPath><clipPath id="c7"><path d="M-63 -94.5H133.08V-6.21H-63ZM-63 -7.21H0.62V31.5H-63ZM15.84 -7.21H21.41V31.5H15.84ZM35.04 -7.21H133.08V31.5H35.04Z"/></clipPath><clipPath id="c8"><path d="M-36 -54H56.03V-4.19H-36ZM-36 -5.19H0.35V18H-36ZM9.05 -5.19H12.23V18H9.05ZM20.02 -5.19H56.03V18H20.02Z"/></clipPath><clipPath id="c9"><path d="M-63 -94.5H133.08V-6.21H-63ZM-63 -7.21H0.62V31.5H-63ZM15.84 -7.21H21.41V31.5H15.84ZM35.04 -7.21H133.08V31.5H35.04Z"/></clipPath><clipPath id="c10"><path d="M-63 -94.5H133.08V-6.21H-63ZM-63 -7.21H0.62V31.5H-63ZM15.84 -7.21H21.41V31.5H15.84ZM35.04 -7.21H133.08V31.5H35.04Z"/></clipPath><clipPath id="c11"><path d="M-36 -54H56.03V-4.19H-36ZM-36 -5.19H0.35V18H-36ZM9.05 -5.19H12.23V18H9.05ZM20.02 -5.19H56.03V18H20.02Z"/></clipPath><clipPath id="c12"><path d="M-63 -94.5H168.12V-6.21H-63ZM-63 -7.21H0.62V31.5H-63ZM15.84 -7.21H21.41V31.5H15.84ZM35.04 -7.21H168.12V31.5H35.04Z"/></clipPath><clipPath id="c13"><path d="M-63 -94.5H133.08V-6.21H-63ZM-63 -7.21H0.62V31.5H-63ZM15.84 -7.21H21.41V31.5H15.84ZM35.04 -7.21H133.08V31.5H35.04Z"/></clipPath><clipPath id="c14"><path d="M-63 -94.5H98.05V-6.21H-63ZM-63 -7.21H0.62V31.5H-63ZM15.84 -7.21H21.41V31.5H15.84ZM35.04 -7.21H98.05V31.5H35.04Z"/></clipPath><clipPath id="c15"><path d="M-63 -94.5H185.62V-6.21H-63ZM-63 -7.21H88.19V31.5H-63ZM103.42 -7.21H108.99V31.5H103.42ZM122.62 -7.21H185.62V31.5H122.62Z"/></clipPath><clipPath id="c16"><path d="M-63 -94.5H150.59V-6.21H-63ZM-63 -7.21H53.15V31.5H-63ZM68.37 -7.21H73.94V31.5H68.37ZM87.57 -7.21H150.59V31.5H87.57Z"/></clipPath><clipPath id="c17"><path d="M-63 -94.5H98.05V-6.21H-63ZM-63 -7.21H0.62V31.5H-63ZM15.84 -7.21H21.41V31.5H15.84ZM35.04 -7.21H98.05V31.5H35.04Z"/></clipPath><clipPath id="c18"><path d="M-63 -94.5H133.08V-6.21H-63ZM-63 -7.21H0.62V31.5H-63ZM15.84 -7.21H21.41V31.5H15.84ZM35.04 -7.21H133.08V31.5H35.04Z"/></clipPath><clipPath id="c19"><path d="M-63 -94.5H133.08V-6.21H-63ZM-63 -7.21H0.62V31.5H-63ZM15.84 -7.21H21.41V31.5H15.84ZM35.04 -7.21H133.08V31.5H35.04Z"/></clipPath><clipPath id="c20"><path d="M-36 -54H76.05V-4.19H-36ZM-36 -5.19H20.37V18H-36ZM29.07 -5.19H32.25V18H29.07ZM40.04 -5.19H76.05V18H40.04Z"/></clipPath><clipPath id="c21"><path d="M-63 -94.5H133.08V-6.21H-63ZM-63 -7.21H0.62V31.5H-63ZM15.84 -7.21H21.41V31.5H15.84ZM35.04 -7.21H133.08V31.5H35.04Z"/></clipPath><clipPath id="c22"><path d="M-63 -94.5H133.08V-6.21H-63ZM-63 -7.21H0.62V31.5H-63ZM15.84 -7.21H21.41V31.5H15.84ZM35.04 -7.21H133.08V31.5H35.04Z"/></clipPath><clipPath id="c23"><path d="M-63 -94.5H133.08V-6.21H-63ZM-63 -7.21H0.62V31.5H-63ZM15.84 -7.21H21.41V31.5H15.84ZM35.04 -7.21H133.08V31.5H35.04Z"/></clipPath><clipPath id="c24"><path d="M-63 -94.5H133.08V-6.21H-63ZM-63 -7.21H0.62V31.5H-63ZM15.84 -7.21H21.41V31.5H15.84ZM35.04 -7.21H133.08V31.5H35.04Z"/></clipPath><clipPath id="c25"><path d="M-33 -49.5H51.36V-3.97H-33ZM-33 -4.97H0.32V16.5H-33ZM8.3 -4.97H11.21V16.5H8.3ZM18.35 -4.97H51.36V16.5H18.35Z"/></clipPath><clipPath id="c26"><path d="M-33 -49.5H51.36V-3.97H-33ZM-33 -4.97H0.32V16.5H-33ZM8.3 -4.97H11.21V16.5H8.3ZM18.35 -4.97H51.36V16.5H18.35Z"/></clipPath><clipPath id="c27"><path d="M-33 -49.5H51.36V-3.97H-33ZM-33 -4.97H0.32V16.5H-33ZM8.3 -4.97H11.21V16.5H8.3ZM18.35 -4.97H51.36V16.5H18.35Z"/></clipPath></defs>
<defs>
<filter id="fhw1_65" filterUnits="userSpaceOnUse" x="0" y="0" width="1570" height="1214" color-interpolation-filters="sRGB"><feMorphology in="SourceAlpha" operator="erode" radius="0 1" result="e"/><feComposite in="SourceAlpha" in2="e" operator="arithmetic" k1="0" k2="0.450" k3="0.550" k4="0" result="s"/><feMorphology in="s" operator="dilate" radius="1 0" result="d"/><feComposite in="s" in2="d" operator="arithmetic" k1="0" k2="0.350" k3="0.650" k4="0" result="a"/><feFlood flood-color="#ffffff" result="c"/><feComposite in="c" in2="a" operator="in"/></filter>
</defs>
<g filter="url(#fhw1_65)">
<text transform="translate(254.18,164.13) scale(0.7169,1.0267)" font-size="74" fill="#fff">a</text>
<text transform="translate(255.47,678.93) scale(0.8323,1.0336)" font-size="68" fill="#fff">b</text>
</g>
<defs>
<filter id="fhk1_65" filterUnits="userSpaceOnUse" x="0" y="0" width="1570" height="1214" color-interpolation-filters="sRGB"><feMorphology in="SourceAlpha" operator="erode" radius="0 1" result="e"/><feComposite in="SourceAlpha" in2="e" operator="arithmetic" k1="0" k2="0.450" k3="0.550" k4="0" result="s"/><feMorphology in="s" operator="dilate" radius="1 0" result="d"/><feComposite in="s" in2="d" operator="arithmetic" k1="0" k2="0.350" k3="0.650" k4="0" result="a"/><feFlood flood-color="#231f20" result="c"/><feComposite in="c" in2="a" operator="in"/></filter>
</defs>
<g filter="url(#fhk1_65)">
<text transform="translate(261.43,499.35) scale(0.7977,1.0290)" font-size="55">M</text>
<text transform="translate(386.83,499.35) scale(0.8156,1.0290)" font-size="55" clip-path="url(#c0)">100</text>
<text transform="translate(477.36,499.35) scale(0.8017,1.0290)" font-size="55">kg</text>
<text transform="translate(537.61,499.35) scale(0.7522,1.0290)" font-size="55">s</text>
<text transform="translate(943.16,667.85) scale(0.7289,1.0319)" font-size="50">PSP</text>
<text transform="translate(1029.86,667.85) scale(0.7804,1.0319)" font-size="50">Orbits</text>
<text transform="translate(1147.91,667.85) scale(0.8546,1.0319)" font-size="50" clip-path="url(#c2)">1-6</text>
<text transform="translate(518.76,681.15) scale(0.8328,1.0319)" font-size="50">r</text>
<text transform="translate(565.34,87.55) scale(0.8441,1.0253)" font-size="63" clip-path="url(#c3)">10</text>
<text transform="translate(1131.04,87.85) scale(0.8436,1.0253)" font-size="63" clip-path="url(#c4)">100</text>
<text transform="translate(725.1,44.15) scale(0.9648,1.0253)" font-size="63">r</text>
<text transform="translate(759.17,44.15) scale(0.6973,1.0253)" font-size="63">(</text>
<text transform="translate(775.8,44.15) scale(0.6459,1.0253)" font-size="63">R</text>
<text transform="translate(834.86,44.15) scale(0.6239,1.0253)" font-size="63">)</text>
<text transform="translate(118.36,188.51) scale(0.8392,1.0253)" font-size="63" clip-path="url(#c5)">10</text>
<text transform="translate(118.36,284.44) scale(0.8392,1.0253)" font-size="63" clip-path="url(#c6)">10</text>
<text transform="translate(118.36,380.38) scale(0.8392,1.0253)" font-size="63" clip-path="url(#c7)">10</text>
<text transform="translate(118.36,476.31) scale(0.8392,1.0253)" font-size="63" clip-path="url(#c9)">10</text>
<text transform="translate(106.06,571.35) scale(0.8392,1.0253)" font-size="63" clip-path="url(#c10)">10</text>
<text transform="translate(106.32,735.58) scale(0.8467,1.0253)" font-size="63" clip-path="url(#c12)">100</text>
<text transform="translate(135.7,886.18) scale(0.8506,1.0253)" font-size="63" clip-path="url(#c13)">10</text>
<text transform="translate(165.2,1036.58) scale(0.8997,1.0253)" font-size="63" clip-path="url(#c14)">1</text>
<text transform="translate(164.75,1126.95) scale(0.8408,1.0253)" font-size="63" clip-path="url(#c15)">0.01</text>
<text transform="translate(757.17,1126.85) scale(0.8328,1.0253)" font-size="63" clip-path="url(#c16)">0.1</text>
<text transform="translate(1349.33,1126.95) scale(0.9451,1.0253)" font-size="63" clip-path="url(#c17)">1</text>
<text transform="translate(728.87,1203.35) scale(0.8765,1.0253)" font-size="63">r</text>
<text transform="translate(761.64,1203.35) scale(0.7566,1.0253)" font-size="63">(au)</text>
<text transform="translate(1376.37,695.65) scale(0.8376,1.0253)" font-size="63" clip-path="url(#c18)">10</text>
<text transform="translate(1376.37,770.7) scale(0.8376,1.0253)" font-size="63" clip-path="url(#c19)">10</text>
<text transform="translate(1376.37,845.75) scale(0.8376,1.0253)" font-size="63" clip-path="url(#c21)">10</text>
<text transform="translate(1376.37,920.8) scale(0.8376,1.0253)" font-size="63" clip-path="url(#c22)">10</text>
<text transform="translate(1376.37,995.85) scale(0.8376,1.0253)" font-size="63" clip-path="url(#c23)">10</text>
<text transform="translate(1376.37,1070.9) scale(0.8376,1.0253)" font-size="63" clip-path="url(#c24)">10</text>
</g>
<defs>
<filter id="fhk0_0" filterUnits="userSpaceOnUse" x="0" y="0" width="1570" height="1214" color-interpolation-filters="sRGB"><feMorphology in="SourceAlpha" operator="dilate" radius="1 0" result="d"/><feComposite in="SourceAlpha" in2="d" operator="arithmetic" k1="0" k2="1.000" k3="0.000" k4="0" result="a"/><feMorphology in="a" operator="dilate" radius="0 1" result="d2"/><feComposite in="a" in2="d2" operator="arithmetic" k1="0" k2="0.780" k3="0.220" k4="0" result="a"/><feFlood flood-color="#231f20" result="c"/><feComposite in="c" in2="a" operator="in"/></filter>
</defs>
<g filter="url(#fhk0_0)">
<text transform="translate(299.93,487.62) scale(0.8442,0.9404)" font-size="34">+</text>
</g>
<defs>
<filter id="fhk0_65" filterUnits="userSpaceOnUse" x="0" y="0" width="1570" height="1214" color-interpolation-filters="sRGB"><feMorphology in="SourceAlpha" operator="dilate" radius="1 0" result="d"/><feComposite in="SourceAlpha" in2="d" operator="arithmetic" k1="0" k2="0.350" k3="0.650" k4="0" result="a"/><feMorphology in="a" operator="dilate" radius="0 1" result="d2"/><feComposite in="a" in2="d2" operator="arithmetic" k1="0" k2="0.780" k3="0.220" k4="0" result="a"/><feFlood flood-color="#231f20" result="c"/><feComposite in="c" in2="a" operator="in"/></filter>
</defs>
<g filter="url(#fhk0_65)">
<text transform="translate(300.23,515.2) scale(0.8437,1.0000)" font-size="30">tot</text>
<text transform="translate(560.9,480.17) scale(0.6654,1.1098)" font-size="31">-</text>
<text transform="translate(571.2,481) scale(0.7302,1.0000)" font-size="31" clip-path="url(#c1)">1</text>
<text transform="translate(533.86,665.15) scale(0.7696,1.0645)" font-size="29">-</text>
<text transform="translate(542.41,664.9) scale(0.8235,1.0000)" font-size="29">2</text>
<text transform="translate(179.1,167.16) scale(0.7599,1.0000)" font-size="36">3</text>
<text transform="translate(178.18,263.09) scale(0.8119,1.0000)" font-size="36">2</text>
<text transform="translate(178.94,359.03) scale(0.7728,1.0000)" font-size="36" clip-path="url(#c8)">1</text>
<text transform="translate(180.03,454.96) scale(0.6867,1.0000)" font-size="36">0</text>
<text transform="translate(166.16,548.27) scale(0.7829,0.9333)" font-size="36">-</text>
<text transform="translate(177.59,549.3) scale(0.8736,1.0000)" font-size="36" clip-path="url(#c11)">1</text>
<text transform="translate(1437.18,673.5) scale(0.7717,0.9000)" font-size="36">-</text>
<text transform="translate(1448.17,674.6) scale(0.8218,1.0000)" font-size="36">20</text>
<text transform="translate(1437.18,748.55) scale(0.7717,0.9000)" font-size="36">-</text>
<text transform="translate(1448.13,749.65) scale(0.8424,1.0000)" font-size="36" clip-path="url(#c20)">21</text>
<text transform="translate(1437.18,823.6) scale(0.7717,0.9000)" font-size="36">-</text>
<text transform="translate(1448.15,824.7) scale(0.8300,1.0000)" font-size="36">22</text>
<text transform="translate(1437.18,898.65) scale(0.7717,0.9000)" font-size="36">-</text>
<text transform="translate(1448.16,899.75) scale(0.8258,1.0000)" font-size="36">23</text>
<text transform="translate(1437.18,973.7) scale(0.7717,0.9000)" font-size="36">-</text>
<text transform="translate(1448.17,974.8) scale(0.8230,1.0000)" font-size="36">24</text>
<text transform="translate(1437.18,1048.75) scale(0.7717,0.9000)" font-size="36">-</text>
<text transform="translate(1448.16,1049.85) scale(0.8238,1.0000)" font-size="36">25</text>
</g>
<defs>
<filter id="fhk1_0" filterUnits="userSpaceOnUse" x="0" y="0" width="1570" height="1214" color-interpolation-filters="sRGB"><feMorphology in="SourceAlpha" operator="erode" radius="0 1" result="e"/><feComposite in="SourceAlpha" in2="e" operator="arithmetic" k1="0" k2="0.450" k3="0.550" k4="0" result="s"/><feMorphology in="s" operator="dilate" radius="1 0" result="d"/><feComposite in="s" in2="d" operator="arithmetic" k1="0" k2="1.000" k3="0.000" k4="0" result="a"/><feFlood flood-color="#231f20" result="c"/><feComposite in="c" in2="a" operator="in"/></filter>
</defs>
<g filter="url(#fhk1_0)">
<text transform="translate(343.65,502.55) scale(1.0276,1.0319)" font-size="50">~</text>
</g>
<defs>
<filter id="fhk1_50" filterUnits="userSpaceOnUse" x="0" y="0" width="1570" height="1214" color-interpolation-filters="sRGB"><feMorphology in="SourceAlpha" operator="erode" radius="0 1" result="e"/><feComposite in="SourceAlpha" in2="e" operator="arithmetic" k1="0" k2="0.450" k3="0.550" k4="0" result="s"/><feMorphology in="s" operator="dilate" radius="1 0" result="d"/><feComposite in="s" in2="d" operator="arithmetic" k1="0" k2="0.500" k3="0.500" k4="0" result="a"/><feFlood flood-color="#231f20" result="c"/><feComposite in="c" in2="a" operator="in"/></filter>
</defs>
<g filter="url(#fhk1_50)">
<text transform="translate(245.88,596.15) scale(0.8198,1.0362)" font-size="44" style="font-style:italic">Dust Free</text>
<text transform="translate(995.32,596.55) scale(0.8284,1.0362)" font-size="44" style="font-style:italic">Zodiacal Collision Rate</text>
</g>
<defs>
<filter id="fhk0_15" filterUnits="userSpaceOnUse" x="0" y="0" width="1570" height="1214" color-interpolation-filters="sRGB"><feMorphology in="SourceAlpha" operator="dilate" radius="1 0" result="d"/><feComposite in="SourceAlpha" in2="d" operator="arithmetic" k1="0" k2="0.850" k3="0.150" k4="0" result="a"/><feMorphology in="a" operator="dilate" radius="0 1" result="d2"/><feComposite in="a" in2="d2" operator="arithmetic" k1="0" k2="0.780" k3="0.220" k4="0" result="a"/><feFlood flood-color="#231f20" result="c"/><feComposite in="c" in2="a" operator="in"/></filter>
</defs>
<g filter="url(#fhk0_15)">
<text transform="translate(805.64,57.05) scale(0.9557,0.9686)" font-size="33" font-family='"DejaVu Sans", sans-serif' style="stroke:#231f20;stroke-width:0.75px">☉</text>
</g>
<defs>
<filter id="fvk1_65" filterUnits="userSpaceOnUse" x="0" y="0" width="1570" height="1214" color-interpolation-filters="sRGB"><feMorphology in="SourceAlpha" operator="erode" radius="1 0" result="e"/><feComposite in="SourceAlpha" in2="e" operator="arithmetic" k1="0" k2="0.450" k3="0.550" k4="0" result="s"/><feMorphology in="s" operator="dilate" radius="0 1" result="d"/><feComposite in="s" in2="d" operator="arithmetic" k1="0" k2="0.350" k3="0.650" k4="0" result="a"/><feFlood flood-color="#231f20" result="c"/><feComposite in="c" in2="a" operator="in"/></filter>
</defs>
<g filter="url(#fvk1_65)">
<text transform="translate(46.35,489.74) rotate(-90) scale(0.8309,1.0253)" font-size="63">M</text>
<text transform="translate(45.22,409.46) rotate(-90) scale(0.6545,0.9559)" font-size="63">(</text>
<text transform="translate(46.35,394.67) rotate(-90) scale(0.8060,1.0253)" font-size="63">kg</text>
<text transform="translate(46.35,324.97) rotate(-90) scale(0.7624,1.0253)" font-size="63">s</text>
<text transform="translate(46.35,255.86) rotate(-90) scale(0.7723,1.0253)" font-size="63">au</text>
<text transform="translate(45.22,171.4) rotate(-90) scale(0.6973,0.9559)" font-size="63">)</text>
<text transform="translate(46.25,926.62) rotate(-90) scale(0.7715,1.0253)" font-size="63">n</text>
<text transform="translate(45.14,868.76) rotate(-90) scale(0.6790,0.9542)" font-size="63">(</text>
<text transform="translate(46.25,853.67) rotate(-90) scale(0.8281,1.0253)" font-size="63">km</text>
<text transform="translate(45.1,752.97) rotate(-90) scale(0.6545,0.9576)" font-size="63">)</text>
<text transform="translate(1550.05,932.89) rotate(-90) scale(1.0180,1.0253)" font-size="63">Γ</text>
<text transform="translate(1548.92,860.06) rotate(-90) scale(0.6545,0.9712)" font-size="63">(</text>
<text transform="translate(1550.05,845.25) rotate(-90) scale(0.8117,1.0253)" font-size="63">cm</text>
<text transform="translate(1548.86,745.87) rotate(-90) scale(0.6545,0.9610)" font-size="63">)</text>
</g>
<defs>
<filter id="fvk0_0" filterUnits="userSpaceOnUse" x="0" y="0" width="1570" height="1214" color-interpolation-filters="sRGB"><feMorphology in="SourceAlpha" operator="dilate" radius="0 1" result="d"/><feComposite in="SourceAlpha" in2="d" operator="arithmetic" k1="0" k2="1.000" k3="0.000" k4="0" result="a"/><feMorphology in="a" operator="dilate" radius="1 0" result="d2"/><feComposite in="a" in2="d2" operator="arithmetic" k1="0" k2="0.780" k3="0.220" k4="0" result="a"/><feFlood flood-color="#231f20" result="c"/><feComposite in="c" in2="a" operator="in"/></filter>
</defs>
<g filter="url(#fvk0_0)">
<text transform="translate(28.07,446.56) rotate(-90) scale(1.0135,0.9902)" font-size="36">+</text>
</g>
<defs>
<filter id="fvk0_65" filterUnits="userSpaceOnUse" x="0" y="0" width="1570" height="1214" color-interpolation-filters="sRGB"><feMorphology in="SourceAlpha" operator="dilate" radius="0 1" result="d"/><feComposite in="SourceAlpha" in2="d" operator="arithmetic" k1="0" k2="0.350" k3="0.650" k4="0" result="a"/><feMorphology in="a" operator="dilate" radius="1 0" result="d2"/><feComposite in="a" in2="d2" operator="arithmetic" k1="0" k2="0.780" k3="0.220" k4="0" result="a"/><feFlood flood-color="#231f20" result="c"/><feComposite in="c" in2="a" operator="in"/></filter>
</defs>
<g filter="url(#fvk0_65)">
<text transform="translate(28.32,299.51) rotate(-90) scale(0.9110,1.4271)" font-size="33">-</text>
<text transform="translate(25.1,287.43) rotate(-90) scale(0.8294,1.0000)" font-size="33" clip-path="url(#c25)">1</text>
<text transform="translate(28.32,199.93) rotate(-90) scale(0.9231,1.4271)" font-size="33">-</text>
<text transform="translate(25.1,188.5) rotate(-90) scale(0.8886,1.0000)" font-size="33" clip-path="url(#c26)">1</text>
<text transform="translate(65.4,898.19) rotate(-90) scale(0.8776,0.9000)" font-size="27">β</text>
<text transform="translate(28.32,782.27) rotate(-90) scale(0.9474,1.4271)" font-size="33">-</text>
<text transform="translate(26.2,769.76) rotate(-90) scale(0.8386,1.1261)" font-size="33">3</text>
<text transform="translate(1573,895.64) rotate(-90) scale(1.0767,1.4188)" font-size="30">σ</text>
<text transform="translate(1530.89,774.73) rotate(-90) scale(0.9231,1.3114)" font-size="33">-</text>
<text transform="translate(1528.9,763.03) rotate(-90) scale(0.8294,1.0000)" font-size="33" clip-path="url(#c27)">1</text>
</g>
</svg>
</body></html>
